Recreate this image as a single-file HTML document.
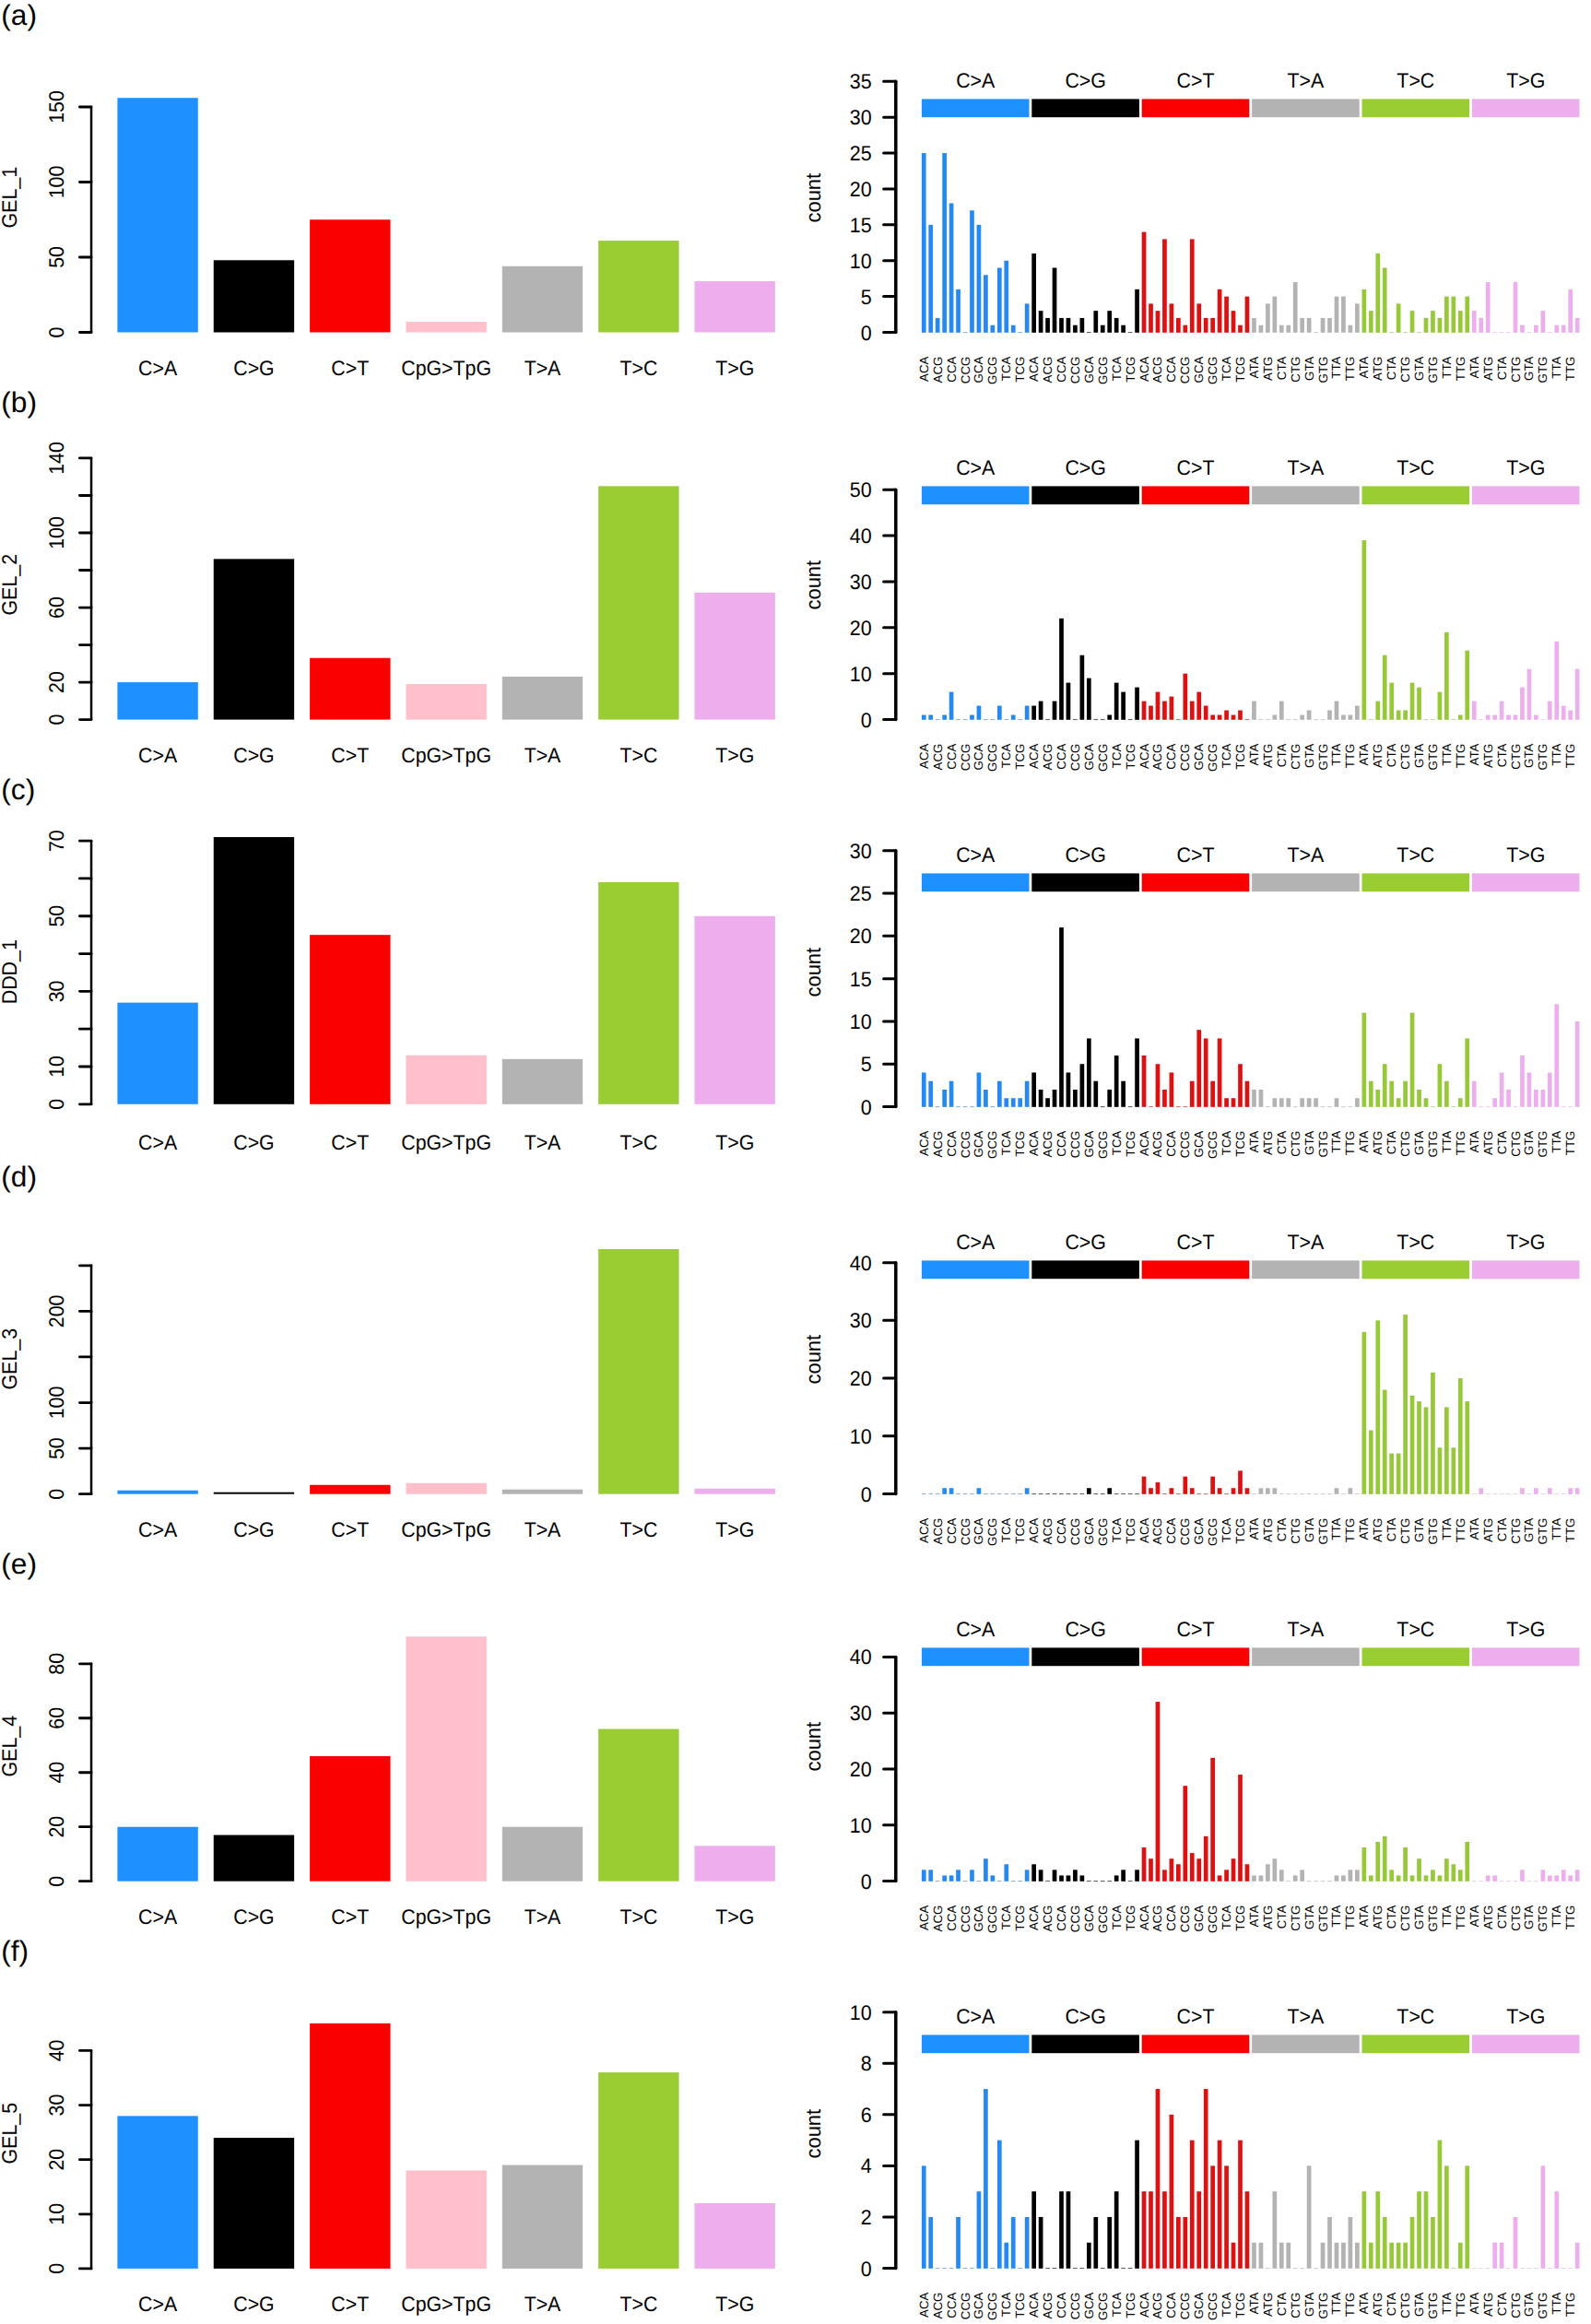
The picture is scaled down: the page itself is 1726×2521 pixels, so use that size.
<!DOCTYPE html>
<html lang="en"><head><meta charset="utf-8"><title>Mutation spectra</title>
<style>html,body{margin:0;padding:0;background:#fff}svg{display:block}text{font-family:"Liberation Sans",Arial,Helvetica,sans-serif;fill:#000;text-rendering:geometricPrecision}.t{font-size:22.7px}.s{font-size:13.3px}.g{font-size:31.2px}.ax{stroke:#000;fill:none;stroke-linecap:round;stroke-linejoin:round}</style></head><body>
<svg width="1726" height="2521" viewBox="0 0 1726 2521">
<rect width="1726" height="2521" fill="#fff"/>
<g transform="translate(0,0)">
<text class="g" transform="translate(1.25,27) scale(1.016,1)">(a)</text>
<rect x="127.4" y="106.22" width="87.4" height="254.28" fill="#1E90FF"/>
<text class="t" text-anchor="middle" transform="translate(171.1,406.9) scale(0.94,1)">C&gt;A</text>
<rect x="231.75" y="282.26" width="87.4" height="78.24" fill="#000000"/>
<text class="t" text-anchor="middle" transform="translate(275.45,406.9) scale(0.94,1)">C&gt;G</text>
<rect x="336.1" y="238.25" width="87.4" height="122.25" fill="#FA0000"/>
<text class="t" text-anchor="middle" transform="translate(379.8,406.9) scale(0.94,1)">C&gt;T</text>
<rect x="440.45" y="349.09" width="87.4" height="11.41" fill="#FFC0CB"/>
<text class="t" text-anchor="middle" transform="translate(484.15,406.9) scale(0.94,1)">CpG&gt;TpG</text>
<rect x="544.8" y="288.78" width="87.4" height="71.72" fill="#B3B3B3"/>
<text class="t" text-anchor="middle" transform="translate(588.5,406.9) scale(0.94,1)">T&gt;A</text>
<rect x="649.15" y="261.07" width="87.4" height="99.43" fill="#9ACD32"/>
<text class="t" text-anchor="middle" transform="translate(692.85,406.9) scale(0.94,1)">T&gt;C</text>
<rect x="753.5" y="305.08" width="87.4" height="55.42" fill="#EEAEEE"/>
<text class="t" text-anchor="middle" transform="translate(797.2,406.9) scale(0.94,1)">T&gt;G</text>
<path class="ax" stroke-width="2.8" d="M86.4 360.5H99.05M86.4 279H99.05M86.4 197.5H99.05M86.4 116H99.05"/>
<path class="ax" stroke-width="2.5" d="M99.05 116V360.5"/>
<text class="t" text-anchor="middle" transform="translate(68.5,360.5) rotate(-90) scale(0.94,1)">0</text>
<text class="t" text-anchor="middle" transform="translate(68.5,279) rotate(-90) scale(0.94,1)">50</text>
<text class="t" text-anchor="middle" transform="translate(68.5,197.5) rotate(-90) scale(0.94,1)">100</text>
<text class="t" text-anchor="middle" transform="translate(68.5,116) rotate(-90) scale(0.94,1)">150</text>
<text class="t" text-anchor="middle" transform="translate(17.7,214.2) rotate(-90) scale(0.945,1)">GEL_1</text>
<path class="ax" stroke-width="3" d="M958.6 360.5H971.8M958.6 321.617H971.8M958.6 282.733H971.8M958.6 243.85H971.8M958.6 204.967H971.8M958.6 166.083H971.8M958.6 127.2H971.8M958.6 88.317H971.8"/>
<path class="ax" stroke-width="3.5" d="M971.8 88.317V360.5"/>
<text class="t" text-anchor="end" transform="translate(945.6,368.5) scale(0.945,1)">0</text>
<text class="t" text-anchor="end" transform="translate(945.6,329.617) scale(0.945,1)">5</text>
<text class="t" text-anchor="end" transform="translate(945.6,290.733) scale(0.945,1)">10</text>
<text class="t" text-anchor="end" transform="translate(945.6,251.85) scale(0.945,1)">15</text>
<text class="t" text-anchor="end" transform="translate(945.6,212.967) scale(0.945,1)">20</text>
<text class="t" text-anchor="end" transform="translate(945.6,174.083) scale(0.945,1)">25</text>
<text class="t" text-anchor="end" transform="translate(945.6,135.2) scale(0.945,1)">30</text>
<text class="t" text-anchor="end" transform="translate(945.6,96.317) scale(0.945,1)">35</text>
<text class="t" text-anchor="middle" transform="translate(890,214.7) rotate(-90) scale(0.97,1)">count</text>
<rect x="999.9" y="107.4" width="116.6" height="19.8" fill="#1E90FF"/>
<text class="t" text-anchor="middle" transform="translate(1058.2,94.5) scale(0.94,1)">C&gt;A</text>
<g fill="#2489F0">
<rect x="999.9" y="166.083" width="4.7" height="194.717"/>
<rect x="1007.36" y="243.85" width="4.7" height="116.95"/>
<rect x="1014.82" y="344.947" width="4.7" height="15.853"/>
<rect x="1022.28" y="166.083" width="4.7" height="194.717"/>
<rect x="1029.74" y="220.52" width="4.7" height="140.28"/>
<rect x="1037.2" y="313.84" width="4.7" height="46.96"/>
<rect x="1052.12" y="228.297" width="4.7" height="132.503"/>
<rect x="1059.58" y="243.85" width="4.7" height="116.95"/>
<rect x="1067.04" y="298.287" width="4.7" height="62.513"/>
<rect x="1074.5" y="352.723" width="4.7" height="8.077"/>
<rect x="1081.96" y="290.51" width="4.7" height="70.29"/>
<rect x="1089.42" y="282.733" width="4.7" height="78.067"/>
<rect x="1096.88" y="352.723" width="4.7" height="8.077"/>
<rect x="1111.8" y="329.393" width="4.7" height="31.407"/>
</g>
<path d="M1044.66 360.6h4.7M1104.34 360.6h4.7" stroke="#5A82A9" stroke-width="0.8" opacity="0.85" fill="none"/>
<text class="s" text-anchor="end" transform="translate(1006.75,386.6) rotate(-90)">ACA</text>
<text class="s" text-anchor="end" transform="translate(1021.67,386.6) rotate(-90)">ACG</text>
<text class="s" text-anchor="end" transform="translate(1036.59,386.6) rotate(-90)">CCA</text>
<text class="s" text-anchor="end" transform="translate(1051.51,386.6) rotate(-90)">CCG</text>
<text class="s" text-anchor="end" transform="translate(1066.43,386.6) rotate(-90)">GCA</text>
<text class="s" text-anchor="end" transform="translate(1081.35,386.6) rotate(-90)">GCG</text>
<text class="s" text-anchor="end" transform="translate(1096.27,386.6) rotate(-90)">TCA</text>
<text class="s" text-anchor="end" transform="translate(1111.19,386.6) rotate(-90)">TCG</text>
<rect x="1119.3" y="107.4" width="116.6" height="19.8" fill="#000000"/>
<text class="t" text-anchor="middle" transform="translate(1177.6,94.5) scale(0.94,1)">C&gt;G</text>
<g fill="#000000">
<rect x="1119.3" y="274.957" width="4.7" height="85.843"/>
<rect x="1126.76" y="337.17" width="4.7" height="23.63"/>
<rect x="1134.22" y="344.947" width="4.7" height="15.853"/>
<rect x="1141.68" y="290.51" width="4.7" height="70.29"/>
<rect x="1149.14" y="344.947" width="4.7" height="15.853"/>
<rect x="1156.6" y="344.947" width="4.7" height="15.853"/>
<rect x="1164.06" y="352.723" width="4.7" height="8.077"/>
<rect x="1171.52" y="344.947" width="4.7" height="15.853"/>
<rect x="1186.44" y="337.17" width="4.7" height="23.63"/>
<rect x="1193.9" y="352.723" width="4.7" height="8.077"/>
<rect x="1201.36" y="337.17" width="4.7" height="23.63"/>
<rect x="1208.82" y="344.947" width="4.7" height="15.853"/>
<rect x="1216.28" y="352.723" width="4.7" height="8.077"/>
<rect x="1231.2" y="313.84" width="4.7" height="46.96"/>
</g>
<path d="M1178.98 360.6h4.7M1223.74 360.6h4.7" stroke="#000000" stroke-width="0.8" opacity="0.85" fill="none"/>
<text class="s" text-anchor="end" transform="translate(1126.15,386.6) rotate(-90)">ACA</text>
<text class="s" text-anchor="end" transform="translate(1141.07,386.6) rotate(-90)">ACG</text>
<text class="s" text-anchor="end" transform="translate(1155.99,386.6) rotate(-90)">CCA</text>
<text class="s" text-anchor="end" transform="translate(1170.91,386.6) rotate(-90)">CCG</text>
<text class="s" text-anchor="end" transform="translate(1185.83,386.6) rotate(-90)">GCA</text>
<text class="s" text-anchor="end" transform="translate(1200.75,386.6) rotate(-90)">GCG</text>
<text class="s" text-anchor="end" transform="translate(1215.67,386.6) rotate(-90)">TCA</text>
<text class="s" text-anchor="end" transform="translate(1230.59,386.6) rotate(-90)">TCG</text>
<rect x="1238.7" y="107.4" width="116.6" height="19.8" fill="#FA0000"/>
<text class="t" text-anchor="middle" transform="translate(1297,94.5) scale(0.94,1)">C&gt;T</text>
<g fill="#DE1010">
<rect x="1238.7" y="251.627" width="4.7" height="109.173"/>
<rect x="1246.16" y="329.393" width="4.7" height="31.407"/>
<rect x="1253.62" y="337.17" width="4.7" height="23.63"/>
<rect x="1261.08" y="259.403" width="4.7" height="101.397"/>
<rect x="1268.54" y="329.393" width="4.7" height="31.407"/>
<rect x="1276" y="344.947" width="4.7" height="15.853"/>
<rect x="1283.46" y="352.723" width="4.7" height="8.077"/>
<rect x="1290.92" y="259.403" width="4.7" height="101.397"/>
<rect x="1298.38" y="329.393" width="4.7" height="31.407"/>
<rect x="1305.84" y="344.947" width="4.7" height="15.853"/>
<rect x="1313.3" y="344.947" width="4.7" height="15.853"/>
<rect x="1320.76" y="313.84" width="4.7" height="46.96"/>
<rect x="1328.22" y="321.617" width="4.7" height="39.183"/>
<rect x="1335.68" y="337.17" width="4.7" height="23.63"/>
<rect x="1343.14" y="352.723" width="4.7" height="8.077"/>
<rect x="1350.6" y="321.617" width="4.7" height="39.183"/>
</g>
<text class="s" text-anchor="end" transform="translate(1245.55,386.6) rotate(-90)">ACA</text>
<text class="s" text-anchor="end" transform="translate(1260.47,386.6) rotate(-90)">ACG</text>
<text class="s" text-anchor="end" transform="translate(1275.39,386.6) rotate(-90)">CCA</text>
<text class="s" text-anchor="end" transform="translate(1290.31,386.6) rotate(-90)">CCG</text>
<text class="s" text-anchor="end" transform="translate(1305.23,386.6) rotate(-90)">GCA</text>
<text class="s" text-anchor="end" transform="translate(1320.15,386.6) rotate(-90)">GCG</text>
<text class="s" text-anchor="end" transform="translate(1335.07,386.6) rotate(-90)">TCA</text>
<text class="s" text-anchor="end" transform="translate(1349.99,386.6) rotate(-90)">TCG</text>
<rect x="1358.1" y="107.4" width="116.6" height="19.8" fill="#B3B3B3"/>
<text class="t" text-anchor="middle" transform="translate(1416.4,94.5) scale(0.94,1)">T&gt;A</text>
<g fill="#B3B3B3">
<rect x="1358.1" y="344.947" width="4.7" height="15.853"/>
<rect x="1365.56" y="352.723" width="4.7" height="8.077"/>
<rect x="1373.02" y="329.393" width="4.7" height="31.407"/>
<rect x="1380.48" y="321.617" width="4.7" height="39.183"/>
<rect x="1387.94" y="352.723" width="4.7" height="8.077"/>
<rect x="1395.4" y="352.723" width="4.7" height="8.077"/>
<rect x="1402.86" y="306.063" width="4.7" height="54.737"/>
<rect x="1410.32" y="344.947" width="4.7" height="15.853"/>
<rect x="1417.78" y="344.947" width="4.7" height="15.853"/>
<rect x="1432.7" y="344.947" width="4.7" height="15.853"/>
<rect x="1440.16" y="344.947" width="4.7" height="15.853"/>
<rect x="1447.62" y="321.617" width="4.7" height="39.183"/>
<rect x="1455.08" y="321.617" width="4.7" height="39.183"/>
<rect x="1462.54" y="352.723" width="4.7" height="8.077"/>
<rect x="1470" y="329.393" width="4.7" height="31.407"/>
</g>
<path d="M1425.24 360.6h4.7" stroke="#B3B3B3" stroke-width="0.8" opacity="0.85" fill="none"/>
<text class="s" text-anchor="end" transform="translate(1364.95,386.6) rotate(-90)">ATA</text>
<text class="s" text-anchor="end" transform="translate(1379.87,386.6) rotate(-90)">ATG</text>
<text class="s" text-anchor="end" transform="translate(1394.79,386.6) rotate(-90)">CTA</text>
<text class="s" text-anchor="end" transform="translate(1409.71,386.6) rotate(-90)">CTG</text>
<text class="s" text-anchor="end" transform="translate(1424.63,386.6) rotate(-90)">GTA</text>
<text class="s" text-anchor="end" transform="translate(1439.55,386.6) rotate(-90)">GTG</text>
<text class="s" text-anchor="end" transform="translate(1454.47,386.6) rotate(-90)">TTA</text>
<text class="s" text-anchor="end" transform="translate(1469.39,386.6) rotate(-90)">TTG</text>
<rect x="1477.5" y="107.4" width="116.6" height="19.8" fill="#9ACD32"/>
<text class="t" text-anchor="middle" transform="translate(1535.8,94.5) scale(0.94,1)">T&gt;C</text>
<g fill="#97C838">
<rect x="1477.5" y="313.84" width="4.7" height="46.96"/>
<rect x="1484.96" y="337.17" width="4.7" height="23.63"/>
<rect x="1492.42" y="274.957" width="4.7" height="85.843"/>
<rect x="1499.88" y="290.51" width="4.7" height="70.29"/>
<rect x="1514.8" y="329.393" width="4.7" height="31.407"/>
<rect x="1529.72" y="337.17" width="4.7" height="23.63"/>
<rect x="1544.64" y="344.947" width="4.7" height="15.853"/>
<rect x="1552.1" y="337.17" width="4.7" height="23.63"/>
<rect x="1559.56" y="344.947" width="4.7" height="15.853"/>
<rect x="1567.02" y="321.617" width="4.7" height="39.183"/>
<rect x="1574.48" y="321.617" width="4.7" height="39.183"/>
<rect x="1581.94" y="337.17" width="4.7" height="23.63"/>
<rect x="1589.4" y="321.617" width="4.7" height="39.183"/>
</g>
<path d="M1507.34 360.6h4.7M1522.26 360.6h4.7M1537.18 360.6h4.7" stroke="#A6B881" stroke-width="0.8" opacity="0.85" fill="none"/>
<text class="s" text-anchor="end" transform="translate(1484.35,386.6) rotate(-90)">ATA</text>
<text class="s" text-anchor="end" transform="translate(1499.27,386.6) rotate(-90)">ATG</text>
<text class="s" text-anchor="end" transform="translate(1514.19,386.6) rotate(-90)">CTA</text>
<text class="s" text-anchor="end" transform="translate(1529.11,386.6) rotate(-90)">CTG</text>
<text class="s" text-anchor="end" transform="translate(1544.03,386.6) rotate(-90)">GTA</text>
<text class="s" text-anchor="end" transform="translate(1558.95,386.6) rotate(-90)">GTG</text>
<text class="s" text-anchor="end" transform="translate(1573.87,386.6) rotate(-90)">TTA</text>
<text class="s" text-anchor="end" transform="translate(1588.79,386.6) rotate(-90)">TTG</text>
<rect x="1596.9" y="107.4" width="116.6" height="19.8" fill="#EEAEEE"/>
<text class="t" text-anchor="middle" transform="translate(1655.2,94.5) scale(0.94,1)">T&gt;G</text>
<g fill="#ECAEEC">
<rect x="1596.9" y="337.17" width="4.7" height="23.63"/>
<rect x="1604.36" y="344.947" width="4.7" height="15.853"/>
<rect x="1611.82" y="306.063" width="4.7" height="54.737"/>
<rect x="1641.66" y="306.063" width="4.7" height="54.737"/>
<rect x="1649.12" y="352.723" width="4.7" height="8.077"/>
<rect x="1664.04" y="352.723" width="4.7" height="8.077"/>
<rect x="1671.5" y="337.17" width="4.7" height="23.63"/>
<rect x="1686.42" y="352.723" width="4.7" height="8.077"/>
<rect x="1693.88" y="352.723" width="4.7" height="8.077"/>
<rect x="1701.34" y="313.84" width="4.7" height="46.96"/>
<rect x="1708.8" y="344.947" width="4.7" height="15.853"/>
</g>
<path d="M1619.28 360.6h4.7M1626.74 360.6h4.7M1634.2 360.6h4.7M1656.58 360.6h4.7M1678.96 360.6h4.7" stroke="#D6BFD6" stroke-width="0.8" opacity="0.85" fill="none"/>
<text class="s" text-anchor="end" transform="translate(1603.75,386.6) rotate(-90)">ATA</text>
<text class="s" text-anchor="end" transform="translate(1618.67,386.6) rotate(-90)">ATG</text>
<text class="s" text-anchor="end" transform="translate(1633.59,386.6) rotate(-90)">CTA</text>
<text class="s" text-anchor="end" transform="translate(1648.51,386.6) rotate(-90)">CTG</text>
<text class="s" text-anchor="end" transform="translate(1663.43,386.6) rotate(-90)">GTA</text>
<text class="s" text-anchor="end" transform="translate(1678.35,386.6) rotate(-90)">GTG</text>
<text class="s" text-anchor="end" transform="translate(1693.27,386.6) rotate(-90)">TTA</text>
<text class="s" text-anchor="end" transform="translate(1708.19,386.6) rotate(-90)">TTG</text>
</g>
<g transform="translate(0,420)">
<text class="g" transform="translate(1.25,27) scale(1.016,1)">(b)</text>
<rect x="127.4" y="320.08" width="87.4" height="40.52" fill="#1E90FF"/>
<text class="t" text-anchor="middle" transform="translate(171.1,406.9) scale(0.94,1)">C&gt;A</text>
<rect x="231.75" y="186.364" width="87.4" height="174.236" fill="#000000"/>
<text class="t" text-anchor="middle" transform="translate(275.45,406.9) scale(0.94,1)">C&gt;G</text>
<rect x="336.1" y="293.742" width="87.4" height="66.858" fill="#FA0000"/>
<text class="t" text-anchor="middle" transform="translate(379.8,406.9) scale(0.94,1)">C&gt;T</text>
<rect x="440.45" y="322.106" width="87.4" height="38.494" fill="#FFC0CB"/>
<text class="t" text-anchor="middle" transform="translate(484.15,406.9) scale(0.94,1)">CpG&gt;TpG</text>
<rect x="544.8" y="314.002" width="87.4" height="46.598" fill="#B3B3B3"/>
<text class="t" text-anchor="middle" transform="translate(588.5,406.9) scale(0.94,1)">T&gt;A</text>
<rect x="649.15" y="107.35" width="87.4" height="253.25" fill="#9ACD32"/>
<text class="t" text-anchor="middle" transform="translate(692.85,406.9) scale(0.94,1)">T&gt;C</text>
<rect x="753.5" y="222.832" width="87.4" height="137.768" fill="#EEAEEE"/>
<text class="t" text-anchor="middle" transform="translate(797.2,406.9) scale(0.94,1)">T&gt;G</text>
<path class="ax" stroke-width="2.8" d="M86.4 360.6H99.05M86.4 320.08H99.05M86.4 279.56H99.05M86.4 239.04H99.05M86.4 198.52H99.05M86.4 158H99.05M86.4 117.48H99.05M86.4 76.96H99.05"/>
<path class="ax" stroke-width="2.5" d="M99.05 76.96V360.6"/>
<text class="t" text-anchor="middle" transform="translate(68.5,360.6) rotate(-90) scale(0.94,1)">0</text>
<text class="t" text-anchor="middle" transform="translate(68.5,320.08) rotate(-90) scale(0.94,1)">20</text>
<text class="t" text-anchor="middle" transform="translate(68.5,239.04) rotate(-90) scale(0.94,1)">60</text>
<text class="t" text-anchor="middle" transform="translate(68.5,158) rotate(-90) scale(0.94,1)">100</text>
<text class="t" text-anchor="middle" transform="translate(68.5,76.96) rotate(-90) scale(0.94,1)">140</text>
<text class="t" text-anchor="middle" transform="translate(17.7,214.2) rotate(-90) scale(0.945,1)">GEL_2</text>
<path class="ax" stroke-width="3" d="M958.6 360.5H971.8M958.6 310.65H971.8M958.6 260.799H971.8M958.6 210.949H971.8M958.6 161.098H971.8M958.6 111.248H971.8"/>
<path class="ax" stroke-width="3.5" d="M971.8 111.248V360.5"/>
<text class="t" text-anchor="end" transform="translate(945.6,368.5) scale(0.945,1)">0</text>
<text class="t" text-anchor="end" transform="translate(945.6,318.65) scale(0.945,1)">10</text>
<text class="t" text-anchor="end" transform="translate(945.6,268.799) scale(0.945,1)">20</text>
<text class="t" text-anchor="end" transform="translate(945.6,218.949) scale(0.945,1)">30</text>
<text class="t" text-anchor="end" transform="translate(945.6,169.098) scale(0.945,1)">40</text>
<text class="t" text-anchor="end" transform="translate(945.6,119.248) scale(0.945,1)">50</text>
<text class="t" text-anchor="middle" transform="translate(890,214.7) rotate(-90) scale(0.97,1)">count</text>
<rect x="999.9" y="107.4" width="116.6" height="19.8" fill="#1E90FF"/>
<text class="t" text-anchor="middle" transform="translate(1058.2,94.5) scale(0.94,1)">C&gt;A</text>
<g fill="#2489F0">
<rect x="999.9" y="355.515" width="4.7" height="5.285"/>
<rect x="1007.36" y="355.515" width="4.7" height="5.285"/>
<rect x="1022.28" y="355.515" width="4.7" height="5.285"/>
<rect x="1029.74" y="330.59" width="4.7" height="30.21"/>
<rect x="1052.12" y="355.515" width="4.7" height="5.285"/>
<rect x="1059.58" y="345.545" width="4.7" height="15.255"/>
<rect x="1081.96" y="345.545" width="4.7" height="15.255"/>
<rect x="1096.88" y="355.515" width="4.7" height="5.285"/>
<rect x="1111.8" y="345.545" width="4.7" height="15.255"/>
</g>
<path d="M1014.82 360.6h4.7M1037.2 360.6h4.7M1044.66 360.6h4.7M1067.04 360.6h4.7M1074.5 360.6h4.7M1089.42 360.6h4.7M1104.34 360.6h4.7" stroke="#5A82A9" stroke-width="0.8" opacity="0.85" fill="none"/>
<text class="s" text-anchor="end" transform="translate(1006.75,386.6) rotate(-90)">ACA</text>
<text class="s" text-anchor="end" transform="translate(1021.67,386.6) rotate(-90)">ACG</text>
<text class="s" text-anchor="end" transform="translate(1036.59,386.6) rotate(-90)">CCA</text>
<text class="s" text-anchor="end" transform="translate(1051.51,386.6) rotate(-90)">CCG</text>
<text class="s" text-anchor="end" transform="translate(1066.43,386.6) rotate(-90)">GCA</text>
<text class="s" text-anchor="end" transform="translate(1081.35,386.6) rotate(-90)">GCG</text>
<text class="s" text-anchor="end" transform="translate(1096.27,386.6) rotate(-90)">TCA</text>
<text class="s" text-anchor="end" transform="translate(1111.19,386.6) rotate(-90)">TCG</text>
<rect x="1119.3" y="107.4" width="116.6" height="19.8" fill="#000000"/>
<text class="t" text-anchor="middle" transform="translate(1177.6,94.5) scale(0.94,1)">C&gt;G</text>
<g fill="#000000">
<rect x="1119.3" y="345.545" width="4.7" height="15.255"/>
<rect x="1126.76" y="340.56" width="4.7" height="20.24"/>
<rect x="1141.68" y="340.56" width="4.7" height="20.24"/>
<rect x="1149.14" y="250.829" width="4.7" height="109.971"/>
<rect x="1156.6" y="320.62" width="4.7" height="40.18"/>
<rect x="1171.52" y="290.709" width="4.7" height="70.091"/>
<rect x="1178.98" y="315.635" width="4.7" height="45.165"/>
<rect x="1201.36" y="355.515" width="4.7" height="5.285"/>
<rect x="1208.82" y="320.62" width="4.7" height="40.18"/>
<rect x="1216.28" y="330.59" width="4.7" height="30.21"/>
<rect x="1231.2" y="325.605" width="4.7" height="35.195"/>
</g>
<path d="M1134.22 360.6h4.7M1164.06 360.6h4.7M1186.44 360.6h4.7M1193.9 360.6h4.7M1223.74 360.6h4.7" stroke="#000000" stroke-width="0.8" opacity="0.85" fill="none"/>
<text class="s" text-anchor="end" transform="translate(1126.15,386.6) rotate(-90)">ACA</text>
<text class="s" text-anchor="end" transform="translate(1141.07,386.6) rotate(-90)">ACG</text>
<text class="s" text-anchor="end" transform="translate(1155.99,386.6) rotate(-90)">CCA</text>
<text class="s" text-anchor="end" transform="translate(1170.91,386.6) rotate(-90)">CCG</text>
<text class="s" text-anchor="end" transform="translate(1185.83,386.6) rotate(-90)">GCA</text>
<text class="s" text-anchor="end" transform="translate(1200.75,386.6) rotate(-90)">GCG</text>
<text class="s" text-anchor="end" transform="translate(1215.67,386.6) rotate(-90)">TCA</text>
<text class="s" text-anchor="end" transform="translate(1230.59,386.6) rotate(-90)">TCG</text>
<rect x="1238.7" y="107.4" width="116.6" height="19.8" fill="#FA0000"/>
<text class="t" text-anchor="middle" transform="translate(1297,94.5) scale(0.94,1)">C&gt;T</text>
<g fill="#DE1010">
<rect x="1238.7" y="340.56" width="4.7" height="20.24"/>
<rect x="1246.16" y="345.545" width="4.7" height="15.255"/>
<rect x="1253.62" y="330.59" width="4.7" height="30.21"/>
<rect x="1261.08" y="340.56" width="4.7" height="20.24"/>
<rect x="1268.54" y="335.575" width="4.7" height="25.225"/>
<rect x="1283.46" y="310.65" width="4.7" height="50.15"/>
<rect x="1290.92" y="340.56" width="4.7" height="20.24"/>
<rect x="1298.38" y="330.59" width="4.7" height="30.21"/>
<rect x="1305.84" y="345.545" width="4.7" height="15.255"/>
<rect x="1313.3" y="355.515" width="4.7" height="5.285"/>
<rect x="1320.76" y="355.515" width="4.7" height="5.285"/>
<rect x="1328.22" y="350.53" width="4.7" height="10.27"/>
<rect x="1335.68" y="355.515" width="4.7" height="5.285"/>
<rect x="1343.14" y="350.53" width="4.7" height="10.27"/>
</g>
<path d="M1276 360.6h4.7M1350.6 360.6h4.7" stroke="#883131" stroke-width="0.8" opacity="0.85" fill="none"/>
<text class="s" text-anchor="end" transform="translate(1245.55,386.6) rotate(-90)">ACA</text>
<text class="s" text-anchor="end" transform="translate(1260.47,386.6) rotate(-90)">ACG</text>
<text class="s" text-anchor="end" transform="translate(1275.39,386.6) rotate(-90)">CCA</text>
<text class="s" text-anchor="end" transform="translate(1290.31,386.6) rotate(-90)">CCG</text>
<text class="s" text-anchor="end" transform="translate(1305.23,386.6) rotate(-90)">GCA</text>
<text class="s" text-anchor="end" transform="translate(1320.15,386.6) rotate(-90)">GCG</text>
<text class="s" text-anchor="end" transform="translate(1335.07,386.6) rotate(-90)">TCA</text>
<text class="s" text-anchor="end" transform="translate(1349.99,386.6) rotate(-90)">TCG</text>
<rect x="1358.1" y="107.4" width="116.6" height="19.8" fill="#B3B3B3"/>
<text class="t" text-anchor="middle" transform="translate(1416.4,94.5) scale(0.94,1)">T&gt;A</text>
<g fill="#B3B3B3">
<rect x="1358.1" y="340.56" width="4.7" height="20.24"/>
<rect x="1380.48" y="355.515" width="4.7" height="5.285"/>
<rect x="1387.94" y="340.56" width="4.7" height="20.24"/>
<rect x="1410.32" y="355.515" width="4.7" height="5.285"/>
<rect x="1417.78" y="350.53" width="4.7" height="10.27"/>
<rect x="1440.16" y="350.53" width="4.7" height="10.27"/>
<rect x="1447.62" y="340.56" width="4.7" height="20.24"/>
<rect x="1455.08" y="355.515" width="4.7" height="5.285"/>
<rect x="1462.54" y="355.515" width="4.7" height="5.285"/>
<rect x="1470" y="345.545" width="4.7" height="15.255"/>
</g>
<path d="M1365.56 360.6h4.7M1373.02 360.6h4.7M1395.4 360.6h4.7M1402.86 360.6h4.7M1425.24 360.6h4.7M1432.7 360.6h4.7" stroke="#B3B3B3" stroke-width="0.8" opacity="0.85" fill="none"/>
<text class="s" text-anchor="end" transform="translate(1364.95,386.6) rotate(-90)">ATA</text>
<text class="s" text-anchor="end" transform="translate(1379.87,386.6) rotate(-90)">ATG</text>
<text class="s" text-anchor="end" transform="translate(1394.79,386.6) rotate(-90)">CTA</text>
<text class="s" text-anchor="end" transform="translate(1409.71,386.6) rotate(-90)">CTG</text>
<text class="s" text-anchor="end" transform="translate(1424.63,386.6) rotate(-90)">GTA</text>
<text class="s" text-anchor="end" transform="translate(1439.55,386.6) rotate(-90)">GTG</text>
<text class="s" text-anchor="end" transform="translate(1454.47,386.6) rotate(-90)">TTA</text>
<text class="s" text-anchor="end" transform="translate(1469.39,386.6) rotate(-90)">TTG</text>
<rect x="1477.5" y="107.4" width="116.6" height="19.8" fill="#9ACD32"/>
<text class="t" text-anchor="middle" transform="translate(1535.8,94.5) scale(0.94,1)">T&gt;C</text>
<g fill="#97C838">
<rect x="1477.5" y="166.083" width="4.7" height="194.717"/>
<rect x="1492.42" y="340.56" width="4.7" height="20.24"/>
<rect x="1499.88" y="290.709" width="4.7" height="70.091"/>
<rect x="1507.34" y="320.62" width="4.7" height="40.18"/>
<rect x="1514.8" y="350.53" width="4.7" height="10.27"/>
<rect x="1522.26" y="350.53" width="4.7" height="10.27"/>
<rect x="1529.72" y="320.62" width="4.7" height="40.18"/>
<rect x="1537.18" y="325.605" width="4.7" height="35.195"/>
<rect x="1559.56" y="330.59" width="4.7" height="30.21"/>
<rect x="1567.02" y="265.784" width="4.7" height="95.016"/>
<rect x="1581.94" y="355.515" width="4.7" height="5.285"/>
<rect x="1589.4" y="285.724" width="4.7" height="75.076"/>
</g>
<path d="M1484.96 360.6h4.7M1544.64 360.6h4.7M1552.1 360.6h4.7M1574.48 360.6h4.7" stroke="#A6B881" stroke-width="0.8" opacity="0.85" fill="none"/>
<text class="s" text-anchor="end" transform="translate(1484.35,386.6) rotate(-90)">ATA</text>
<text class="s" text-anchor="end" transform="translate(1499.27,386.6) rotate(-90)">ATG</text>
<text class="s" text-anchor="end" transform="translate(1514.19,386.6) rotate(-90)">CTA</text>
<text class="s" text-anchor="end" transform="translate(1529.11,386.6) rotate(-90)">CTG</text>
<text class="s" text-anchor="end" transform="translate(1544.03,386.6) rotate(-90)">GTA</text>
<text class="s" text-anchor="end" transform="translate(1558.95,386.6) rotate(-90)">GTG</text>
<text class="s" text-anchor="end" transform="translate(1573.87,386.6) rotate(-90)">TTA</text>
<text class="s" text-anchor="end" transform="translate(1588.79,386.6) rotate(-90)">TTG</text>
<rect x="1596.9" y="107.4" width="116.6" height="19.8" fill="#EEAEEE"/>
<text class="t" text-anchor="middle" transform="translate(1655.2,94.5) scale(0.94,1)">T&gt;G</text>
<g fill="#ECAEEC">
<rect x="1596.9" y="340.56" width="4.7" height="20.24"/>
<rect x="1611.82" y="355.515" width="4.7" height="5.285"/>
<rect x="1619.28" y="355.515" width="4.7" height="5.285"/>
<rect x="1626.74" y="340.56" width="4.7" height="20.24"/>
<rect x="1634.2" y="355.515" width="4.7" height="5.285"/>
<rect x="1641.66" y="355.515" width="4.7" height="5.285"/>
<rect x="1649.12" y="325.605" width="4.7" height="35.195"/>
<rect x="1656.58" y="305.665" width="4.7" height="55.135"/>
<rect x="1664.04" y="355.515" width="4.7" height="5.285"/>
<rect x="1678.96" y="340.56" width="4.7" height="20.24"/>
<rect x="1686.42" y="275.754" width="4.7" height="85.046"/>
<rect x="1693.88" y="345.545" width="4.7" height="15.255"/>
<rect x="1701.34" y="350.53" width="4.7" height="10.27"/>
<rect x="1708.8" y="305.665" width="4.7" height="55.135"/>
</g>
<path d="M1604.36 360.6h4.7M1671.5 360.6h4.7" stroke="#D6BFD6" stroke-width="0.8" opacity="0.85" fill="none"/>
<text class="s" text-anchor="end" transform="translate(1603.75,386.6) rotate(-90)">ATA</text>
<text class="s" text-anchor="end" transform="translate(1618.67,386.6) rotate(-90)">ATG</text>
<text class="s" text-anchor="end" transform="translate(1633.59,386.6) rotate(-90)">CTA</text>
<text class="s" text-anchor="end" transform="translate(1648.51,386.6) rotate(-90)">CTG</text>
<text class="s" text-anchor="end" transform="translate(1663.43,386.6) rotate(-90)">GTA</text>
<text class="s" text-anchor="end" transform="translate(1678.35,386.6) rotate(-90)">GTG</text>
<text class="s" text-anchor="end" transform="translate(1693.27,386.6) rotate(-90)">TTA</text>
<text class="s" text-anchor="end" transform="translate(1708.19,386.6) rotate(-90)">TTG</text>
</g>
<g transform="translate(0,840)">
<text class="g" transform="translate(1.25,27) scale(1.016,1)">(c)</text>
<rect x="127.4" y="247.613" width="87.4" height="110.187" fill="#1E90FF"/>
<text class="t" text-anchor="middle" transform="translate(171.1,406.9) scale(0.94,1)">C&gt;A</text>
<rect x="231.75" y="68.049" width="87.4" height="289.751" fill="#000000"/>
<text class="t" text-anchor="middle" transform="translate(275.45,406.9) scale(0.94,1)">C&gt;G</text>
<rect x="336.1" y="174.155" width="87.4" height="183.645" fill="#FA0000"/>
<text class="t" text-anchor="middle" transform="translate(379.8,406.9) scale(0.94,1)">C&gt;T</text>
<rect x="440.45" y="304.747" width="87.4" height="53.053" fill="#FFC0CB"/>
<text class="t" text-anchor="middle" transform="translate(484.15,406.9) scale(0.94,1)">CpG&gt;TpG</text>
<rect x="544.8" y="308.828" width="87.4" height="48.972" fill="#B3B3B3"/>
<text class="t" text-anchor="middle" transform="translate(588.5,406.9) scale(0.94,1)">T&gt;A</text>
<rect x="649.15" y="117.021" width="87.4" height="240.779" fill="#9ACD32"/>
<text class="t" text-anchor="middle" transform="translate(692.85,406.9) scale(0.94,1)">T&gt;C</text>
<rect x="753.5" y="153.75" width="87.4" height="204.05" fill="#EEAEEE"/>
<text class="t" text-anchor="middle" transform="translate(797.2,406.9) scale(0.94,1)">T&gt;G</text>
<path class="ax" stroke-width="2.8" d="M86.4 357.8H99.05M86.4 316.99H99.05M86.4 276.18H99.05M86.4 235.37H99.05M86.4 194.56H99.05M86.4 153.75H99.05M86.4 112.94H99.05M86.4 72.13H99.05"/>
<path class="ax" stroke-width="2.5" d="M99.05 72.13V357.8"/>
<text class="t" text-anchor="middle" transform="translate(68.5,357.8) rotate(-90) scale(0.94,1)">0</text>
<text class="t" text-anchor="middle" transform="translate(68.5,316.99) rotate(-90) scale(0.94,1)">10</text>
<text class="t" text-anchor="middle" transform="translate(68.5,235.37) rotate(-90) scale(0.94,1)">30</text>
<text class="t" text-anchor="middle" transform="translate(68.5,153.75) rotate(-90) scale(0.94,1)">50</text>
<text class="t" text-anchor="middle" transform="translate(68.5,72.13) rotate(-90) scale(0.94,1)">70</text>
<text class="t" text-anchor="middle" transform="translate(17.7,214.2) rotate(-90) scale(0.945,1)">DDD_1</text>
<path class="ax" stroke-width="3" d="M958.6 360.5H971.8M958.6 314.21H971.8M958.6 267.921H971.8M958.6 221.631H971.8M958.6 175.341H971.8M958.6 129.052H971.8M958.6 82.762H971.8"/>
<path class="ax" stroke-width="3.5" d="M971.8 82.762V360.5"/>
<text class="t" text-anchor="end" transform="translate(945.6,368.5) scale(0.945,1)">0</text>
<text class="t" text-anchor="end" transform="translate(945.6,322.21) scale(0.945,1)">5</text>
<text class="t" text-anchor="end" transform="translate(945.6,275.921) scale(0.945,1)">10</text>
<text class="t" text-anchor="end" transform="translate(945.6,229.631) scale(0.945,1)">15</text>
<text class="t" text-anchor="end" transform="translate(945.6,183.341) scale(0.945,1)">20</text>
<text class="t" text-anchor="end" transform="translate(945.6,137.052) scale(0.945,1)">25</text>
<text class="t" text-anchor="end" transform="translate(945.6,90.762) scale(0.945,1)">30</text>
<text class="t" text-anchor="middle" transform="translate(890,214.7) rotate(-90) scale(0.97,1)">count</text>
<rect x="999.9" y="107.4" width="116.6" height="19.8" fill="#1E90FF"/>
<text class="t" text-anchor="middle" transform="translate(1058.2,94.5) scale(0.94,1)">C&gt;A</text>
<g fill="#2489F0">
<rect x="999.9" y="323.468" width="4.7" height="37.332"/>
<rect x="1007.36" y="332.726" width="4.7" height="28.074"/>
<rect x="1022.28" y="341.984" width="4.7" height="18.816"/>
<rect x="1029.74" y="332.726" width="4.7" height="28.074"/>
<rect x="1059.58" y="323.468" width="4.7" height="37.332"/>
<rect x="1067.04" y="341.984" width="4.7" height="18.816"/>
<rect x="1081.96" y="332.726" width="4.7" height="28.074"/>
<rect x="1089.42" y="351.242" width="4.7" height="9.558"/>
<rect x="1096.88" y="351.242" width="4.7" height="9.558"/>
<rect x="1104.34" y="351.242" width="4.7" height="9.558"/>
<rect x="1111.8" y="332.726" width="4.7" height="28.074"/>
</g>
<path d="M1014.82 360.6h4.7M1037.2 360.6h4.7M1044.66 360.6h4.7M1052.12 360.6h4.7M1074.5 360.6h4.7" stroke="#5A82A9" stroke-width="0.8" opacity="0.85" fill="none"/>
<text class="s" text-anchor="end" transform="translate(1006.75,386.6) rotate(-90)">ACA</text>
<text class="s" text-anchor="end" transform="translate(1021.67,386.6) rotate(-90)">ACG</text>
<text class="s" text-anchor="end" transform="translate(1036.59,386.6) rotate(-90)">CCA</text>
<text class="s" text-anchor="end" transform="translate(1051.51,386.6) rotate(-90)">CCG</text>
<text class="s" text-anchor="end" transform="translate(1066.43,386.6) rotate(-90)">GCA</text>
<text class="s" text-anchor="end" transform="translate(1081.35,386.6) rotate(-90)">GCG</text>
<text class="s" text-anchor="end" transform="translate(1096.27,386.6) rotate(-90)">TCA</text>
<text class="s" text-anchor="end" transform="translate(1111.19,386.6) rotate(-90)">TCG</text>
<rect x="1119.3" y="107.4" width="116.6" height="19.8" fill="#000000"/>
<text class="t" text-anchor="middle" transform="translate(1177.6,94.5) scale(0.94,1)">C&gt;G</text>
<g fill="#000000">
<rect x="1119.3" y="323.468" width="4.7" height="37.332"/>
<rect x="1126.76" y="341.984" width="4.7" height="18.816"/>
<rect x="1134.22" y="351.242" width="4.7" height="9.558"/>
<rect x="1141.68" y="341.984" width="4.7" height="18.816"/>
<rect x="1149.14" y="166.083" width="4.7" height="194.717"/>
<rect x="1156.6" y="323.468" width="4.7" height="37.332"/>
<rect x="1164.06" y="341.984" width="4.7" height="18.816"/>
<rect x="1171.52" y="314.21" width="4.7" height="46.59"/>
<rect x="1178.98" y="286.437" width="4.7" height="74.363"/>
<rect x="1186.44" y="332.726" width="4.7" height="28.074"/>
<rect x="1201.36" y="341.984" width="4.7" height="18.816"/>
<rect x="1208.82" y="304.952" width="4.7" height="55.848"/>
<rect x="1216.28" y="332.726" width="4.7" height="28.074"/>
<rect x="1231.2" y="286.437" width="4.7" height="74.363"/>
</g>
<path d="M1193.9 360.6h4.7M1223.74 360.6h4.7" stroke="#000000" stroke-width="0.8" opacity="0.85" fill="none"/>
<text class="s" text-anchor="end" transform="translate(1126.15,386.6) rotate(-90)">ACA</text>
<text class="s" text-anchor="end" transform="translate(1141.07,386.6) rotate(-90)">ACG</text>
<text class="s" text-anchor="end" transform="translate(1155.99,386.6) rotate(-90)">CCA</text>
<text class="s" text-anchor="end" transform="translate(1170.91,386.6) rotate(-90)">CCG</text>
<text class="s" text-anchor="end" transform="translate(1185.83,386.6) rotate(-90)">GCA</text>
<text class="s" text-anchor="end" transform="translate(1200.75,386.6) rotate(-90)">GCG</text>
<text class="s" text-anchor="end" transform="translate(1215.67,386.6) rotate(-90)">TCA</text>
<text class="s" text-anchor="end" transform="translate(1230.59,386.6) rotate(-90)">TCG</text>
<rect x="1238.7" y="107.4" width="116.6" height="19.8" fill="#FA0000"/>
<text class="t" text-anchor="middle" transform="translate(1297,94.5) scale(0.94,1)">C&gt;T</text>
<g fill="#DE1010">
<rect x="1238.7" y="304.952" width="4.7" height="55.848"/>
<rect x="1253.62" y="314.21" width="4.7" height="46.59"/>
<rect x="1261.08" y="341.984" width="4.7" height="18.816"/>
<rect x="1268.54" y="323.468" width="4.7" height="37.332"/>
<rect x="1290.92" y="332.726" width="4.7" height="28.074"/>
<rect x="1298.38" y="277.179" width="4.7" height="83.621"/>
<rect x="1305.84" y="286.437" width="4.7" height="74.363"/>
<rect x="1313.3" y="332.726" width="4.7" height="28.074"/>
<rect x="1320.76" y="286.437" width="4.7" height="74.363"/>
<rect x="1328.22" y="351.242" width="4.7" height="9.558"/>
<rect x="1335.68" y="351.242" width="4.7" height="9.558"/>
<rect x="1343.14" y="314.21" width="4.7" height="46.59"/>
<rect x="1350.6" y="332.726" width="4.7" height="28.074"/>
</g>
<path d="M1246.16 360.6h4.7M1276 360.6h4.7M1283.46 360.6h4.7" stroke="#883131" stroke-width="0.8" opacity="0.85" fill="none"/>
<text class="s" text-anchor="end" transform="translate(1245.55,386.6) rotate(-90)">ACA</text>
<text class="s" text-anchor="end" transform="translate(1260.47,386.6) rotate(-90)">ACG</text>
<text class="s" text-anchor="end" transform="translate(1275.39,386.6) rotate(-90)">CCA</text>
<text class="s" text-anchor="end" transform="translate(1290.31,386.6) rotate(-90)">CCG</text>
<text class="s" text-anchor="end" transform="translate(1305.23,386.6) rotate(-90)">GCA</text>
<text class="s" text-anchor="end" transform="translate(1320.15,386.6) rotate(-90)">GCG</text>
<text class="s" text-anchor="end" transform="translate(1335.07,386.6) rotate(-90)">TCA</text>
<text class="s" text-anchor="end" transform="translate(1349.99,386.6) rotate(-90)">TCG</text>
<rect x="1358.1" y="107.4" width="116.6" height="19.8" fill="#B3B3B3"/>
<text class="t" text-anchor="middle" transform="translate(1416.4,94.5) scale(0.94,1)">T&gt;A</text>
<g fill="#B3B3B3">
<rect x="1358.1" y="341.984" width="4.7" height="18.816"/>
<rect x="1365.56" y="341.984" width="4.7" height="18.816"/>
<rect x="1380.48" y="351.242" width="4.7" height="9.558"/>
<rect x="1387.94" y="351.242" width="4.7" height="9.558"/>
<rect x="1395.4" y="351.242" width="4.7" height="9.558"/>
<rect x="1410.32" y="351.242" width="4.7" height="9.558"/>
<rect x="1417.78" y="351.242" width="4.7" height="9.558"/>
<rect x="1425.24" y="351.242" width="4.7" height="9.558"/>
<rect x="1447.62" y="351.242" width="4.7" height="9.558"/>
<rect x="1470" y="351.242" width="4.7" height="9.558"/>
</g>
<path d="M1373.02 360.6h4.7M1402.86 360.6h4.7M1432.7 360.6h4.7M1440.16 360.6h4.7M1455.08 360.6h4.7M1462.54 360.6h4.7" stroke="#B3B3B3" stroke-width="0.8" opacity="0.85" fill="none"/>
<text class="s" text-anchor="end" transform="translate(1364.95,386.6) rotate(-90)">ATA</text>
<text class="s" text-anchor="end" transform="translate(1379.87,386.6) rotate(-90)">ATG</text>
<text class="s" text-anchor="end" transform="translate(1394.79,386.6) rotate(-90)">CTA</text>
<text class="s" text-anchor="end" transform="translate(1409.71,386.6) rotate(-90)">CTG</text>
<text class="s" text-anchor="end" transform="translate(1424.63,386.6) rotate(-90)">GTA</text>
<text class="s" text-anchor="end" transform="translate(1439.55,386.6) rotate(-90)">GTG</text>
<text class="s" text-anchor="end" transform="translate(1454.47,386.6) rotate(-90)">TTA</text>
<text class="s" text-anchor="end" transform="translate(1469.39,386.6) rotate(-90)">TTG</text>
<rect x="1477.5" y="107.4" width="116.6" height="19.8" fill="#9ACD32"/>
<text class="t" text-anchor="middle" transform="translate(1535.8,94.5) scale(0.94,1)">T&gt;C</text>
<g fill="#97C838">
<rect x="1477.5" y="258.663" width="4.7" height="102.137"/>
<rect x="1484.96" y="332.726" width="4.7" height="28.074"/>
<rect x="1492.42" y="341.984" width="4.7" height="18.816"/>
<rect x="1499.88" y="314.21" width="4.7" height="46.59"/>
<rect x="1507.34" y="332.726" width="4.7" height="28.074"/>
<rect x="1514.8" y="351.242" width="4.7" height="9.558"/>
<rect x="1522.26" y="332.726" width="4.7" height="28.074"/>
<rect x="1529.72" y="258.663" width="4.7" height="102.137"/>
<rect x="1537.18" y="341.984" width="4.7" height="18.816"/>
<rect x="1544.64" y="351.242" width="4.7" height="9.558"/>
<rect x="1559.56" y="314.21" width="4.7" height="46.59"/>
<rect x="1567.02" y="332.726" width="4.7" height="28.074"/>
<rect x="1581.94" y="351.242" width="4.7" height="9.558"/>
<rect x="1589.4" y="286.437" width="4.7" height="74.363"/>
</g>
<path d="M1552.1 360.6h4.7M1574.48 360.6h4.7" stroke="#A6B881" stroke-width="0.8" opacity="0.85" fill="none"/>
<text class="s" text-anchor="end" transform="translate(1484.35,386.6) rotate(-90)">ATA</text>
<text class="s" text-anchor="end" transform="translate(1499.27,386.6) rotate(-90)">ATG</text>
<text class="s" text-anchor="end" transform="translate(1514.19,386.6) rotate(-90)">CTA</text>
<text class="s" text-anchor="end" transform="translate(1529.11,386.6) rotate(-90)">CTG</text>
<text class="s" text-anchor="end" transform="translate(1544.03,386.6) rotate(-90)">GTA</text>
<text class="s" text-anchor="end" transform="translate(1558.95,386.6) rotate(-90)">GTG</text>
<text class="s" text-anchor="end" transform="translate(1573.87,386.6) rotate(-90)">TTA</text>
<text class="s" text-anchor="end" transform="translate(1588.79,386.6) rotate(-90)">TTG</text>
<rect x="1596.9" y="107.4" width="116.6" height="19.8" fill="#EEAEEE"/>
<text class="t" text-anchor="middle" transform="translate(1655.2,94.5) scale(0.94,1)">T&gt;G</text>
<g fill="#ECAEEC">
<rect x="1596.9" y="332.726" width="4.7" height="28.074"/>
<rect x="1619.28" y="351.242" width="4.7" height="9.558"/>
<rect x="1626.74" y="323.468" width="4.7" height="37.332"/>
<rect x="1634.2" y="341.984" width="4.7" height="18.816"/>
<rect x="1649.12" y="304.952" width="4.7" height="55.848"/>
<rect x="1656.58" y="323.468" width="4.7" height="37.332"/>
<rect x="1664.04" y="341.984" width="4.7" height="18.816"/>
<rect x="1671.5" y="341.984" width="4.7" height="18.816"/>
<rect x="1678.96" y="323.468" width="4.7" height="37.332"/>
<rect x="1686.42" y="249.405" width="4.7" height="111.395"/>
<rect x="1708.8" y="267.921" width="4.7" height="92.879"/>
</g>
<path d="M1604.36 360.6h4.7M1611.82 360.6h4.7M1641.66 360.6h4.7M1693.88 360.6h4.7M1701.34 360.6h4.7" stroke="#D6BFD6" stroke-width="0.8" opacity="0.85" fill="none"/>
<text class="s" text-anchor="end" transform="translate(1603.75,386.6) rotate(-90)">ATA</text>
<text class="s" text-anchor="end" transform="translate(1618.67,386.6) rotate(-90)">ATG</text>
<text class="s" text-anchor="end" transform="translate(1633.59,386.6) rotate(-90)">CTA</text>
<text class="s" text-anchor="end" transform="translate(1648.51,386.6) rotate(-90)">CTG</text>
<text class="s" text-anchor="end" transform="translate(1663.43,386.6) rotate(-90)">GTA</text>
<text class="s" text-anchor="end" transform="translate(1678.35,386.6) rotate(-90)">GTG</text>
<text class="s" text-anchor="end" transform="translate(1693.27,386.6) rotate(-90)">TTA</text>
<text class="s" text-anchor="end" transform="translate(1708.19,386.6) rotate(-90)">TTG</text>
</g>
<g transform="translate(0,1260)">
<text class="g" transform="translate(1.25,27) scale(1.016,1)">(d)</text>
<rect x="127.4" y="356.734" width="87.4" height="3.966" fill="#1E90FF"/>
<text class="t" text-anchor="middle" transform="translate(171.1,406.9) scale(0.94,1)">C&gt;A</text>
<rect x="231.75" y="358.717" width="87.4" height="1.983" fill="#000000"/>
<text class="t" text-anchor="middle" transform="translate(275.45,406.9) scale(0.94,1)">C&gt;G</text>
<rect x="336.1" y="350.784" width="87.4" height="9.916" fill="#FA0000"/>
<text class="t" text-anchor="middle" transform="translate(379.8,406.9) scale(0.94,1)">C&gt;T</text>
<rect x="440.45" y="348.801" width="87.4" height="11.899" fill="#FFC0CB"/>
<text class="t" text-anchor="middle" transform="translate(484.15,406.9) scale(0.94,1)">CpG&gt;TpG</text>
<rect x="544.8" y="355.742" width="87.4" height="4.958" fill="#B3B3B3"/>
<text class="t" text-anchor="middle" transform="translate(588.5,406.9) scale(0.94,1)">T&gt;A</text>
<rect x="649.15" y="94.951" width="87.4" height="265.749" fill="#9ACD32"/>
<text class="t" text-anchor="middle" transform="translate(692.85,406.9) scale(0.94,1)">T&gt;C</text>
<rect x="753.5" y="354.75" width="87.4" height="5.95" fill="#EEAEEE"/>
<text class="t" text-anchor="middle" transform="translate(797.2,406.9) scale(0.94,1)">T&gt;G</text>
<path class="ax" stroke-width="2.8" d="M86.4 360.7H99.05M86.4 311.12H99.05M86.4 261.54H99.05M86.4 211.96H99.05M86.4 162.38H99.05M86.4 112.8H99.05"/>
<path class="ax" stroke-width="2.5" d="M99.05 112.8V360.7"/>
<text class="t" text-anchor="middle" transform="translate(68.5,360.7) rotate(-90) scale(0.94,1)">0</text>
<text class="t" text-anchor="middle" transform="translate(68.5,311.12) rotate(-90) scale(0.94,1)">50</text>
<text class="t" text-anchor="middle" transform="translate(68.5,261.54) rotate(-90) scale(0.94,1)">100</text>
<text class="t" text-anchor="middle" transform="translate(68.5,162.38) rotate(-90) scale(0.94,1)">200</text>
<text class="t" text-anchor="middle" transform="translate(17.7,214.2) rotate(-90) scale(0.945,1)">GEL_3</text>
<path class="ax" stroke-width="3" d="M958.6 360.5H971.8M958.6 297.785H971.8M958.6 235.07H971.8M958.6 172.355H971.8M958.6 109.64H971.8"/>
<path class="ax" stroke-width="3.5" d="M971.8 109.64V360.5"/>
<text class="t" text-anchor="end" transform="translate(945.6,368.5) scale(0.945,1)">0</text>
<text class="t" text-anchor="end" transform="translate(945.6,305.785) scale(0.945,1)">10</text>
<text class="t" text-anchor="end" transform="translate(945.6,243.07) scale(0.945,1)">20</text>
<text class="t" text-anchor="end" transform="translate(945.6,180.355) scale(0.945,1)">30</text>
<text class="t" text-anchor="end" transform="translate(945.6,117.64) scale(0.945,1)">40</text>
<text class="t" text-anchor="middle" transform="translate(890,214.7) rotate(-90) scale(0.97,1)">count</text>
<rect x="999.9" y="107.4" width="116.6" height="19.8" fill="#1E90FF"/>
<text class="t" text-anchor="middle" transform="translate(1058.2,94.5) scale(0.94,1)">C&gt;A</text>
<g fill="#2489F0">
<rect x="1022.28" y="354.228" width="4.7" height="6.572"/>
<rect x="1029.74" y="354.228" width="4.7" height="6.572"/>
<rect x="1059.58" y="354.228" width="4.7" height="6.572"/>
<rect x="1111.8" y="354.228" width="4.7" height="6.572"/>
</g>
<path d="M999.9 360.6h4.7M1007.36 360.6h4.7M1014.82 360.6h4.7M1037.2 360.6h4.7M1044.66 360.6h4.7M1052.12 360.6h4.7M1067.04 360.6h4.7M1074.5 360.6h4.7M1081.96 360.6h4.7M1089.42 360.6h4.7M1096.88 360.6h4.7M1104.34 360.6h4.7" stroke="#5A82A9" stroke-width="0.8" opacity="0.85" fill="none"/>
<text class="s" text-anchor="end" transform="translate(1006.75,386.6) rotate(-90)">ACA</text>
<text class="s" text-anchor="end" transform="translate(1021.67,386.6) rotate(-90)">ACG</text>
<text class="s" text-anchor="end" transform="translate(1036.59,386.6) rotate(-90)">CCA</text>
<text class="s" text-anchor="end" transform="translate(1051.51,386.6) rotate(-90)">CCG</text>
<text class="s" text-anchor="end" transform="translate(1066.43,386.6) rotate(-90)">GCA</text>
<text class="s" text-anchor="end" transform="translate(1081.35,386.6) rotate(-90)">GCG</text>
<text class="s" text-anchor="end" transform="translate(1096.27,386.6) rotate(-90)">TCA</text>
<text class="s" text-anchor="end" transform="translate(1111.19,386.6) rotate(-90)">TCG</text>
<rect x="1119.3" y="107.4" width="116.6" height="19.8" fill="#000000"/>
<text class="t" text-anchor="middle" transform="translate(1177.6,94.5) scale(0.94,1)">C&gt;G</text>
<g fill="#000000">
<rect x="1178.98" y="354.228" width="4.7" height="6.572"/>
<rect x="1201.36" y="354.228" width="4.7" height="6.572"/>
</g>
<path d="M1119.3 360.6h4.7M1126.76 360.6h4.7M1134.22 360.6h4.7M1141.68 360.6h4.7M1149.14 360.6h4.7M1156.6 360.6h4.7M1164.06 360.6h4.7M1171.52 360.6h4.7M1186.44 360.6h4.7M1193.9 360.6h4.7M1208.82 360.6h4.7M1216.28 360.6h4.7M1223.74 360.6h4.7M1231.2 360.6h4.7" stroke="#000000" stroke-width="0.8" opacity="0.85" fill="none"/>
<text class="s" text-anchor="end" transform="translate(1126.15,386.6) rotate(-90)">ACA</text>
<text class="s" text-anchor="end" transform="translate(1141.07,386.6) rotate(-90)">ACG</text>
<text class="s" text-anchor="end" transform="translate(1155.99,386.6) rotate(-90)">CCA</text>
<text class="s" text-anchor="end" transform="translate(1170.91,386.6) rotate(-90)">CCG</text>
<text class="s" text-anchor="end" transform="translate(1185.83,386.6) rotate(-90)">GCA</text>
<text class="s" text-anchor="end" transform="translate(1200.75,386.6) rotate(-90)">GCG</text>
<text class="s" text-anchor="end" transform="translate(1215.67,386.6) rotate(-90)">TCA</text>
<text class="s" text-anchor="end" transform="translate(1230.59,386.6) rotate(-90)">TCG</text>
<rect x="1238.7" y="107.4" width="116.6" height="19.8" fill="#FA0000"/>
<text class="t" text-anchor="middle" transform="translate(1297,94.5) scale(0.94,1)">C&gt;T</text>
<g fill="#DE1010">
<rect x="1238.7" y="341.685" width="4.7" height="19.115"/>
<rect x="1246.16" y="354.228" width="4.7" height="6.572"/>
<rect x="1253.62" y="347.957" width="4.7" height="12.843"/>
<rect x="1268.54" y="354.228" width="4.7" height="6.572"/>
<rect x="1283.46" y="341.685" width="4.7" height="19.115"/>
<rect x="1290.92" y="354.228" width="4.7" height="6.572"/>
<rect x="1313.3" y="341.685" width="4.7" height="19.115"/>
<rect x="1320.76" y="354.228" width="4.7" height="6.572"/>
<rect x="1335.68" y="354.228" width="4.7" height="6.572"/>
<rect x="1343.14" y="335.414" width="4.7" height="25.386"/>
<rect x="1350.6" y="354.228" width="4.7" height="6.572"/>
</g>
<path d="M1261.08 360.6h4.7M1276 360.6h4.7M1298.38 360.6h4.7M1305.84 360.6h4.7M1328.22 360.6h4.7" stroke="#883131" stroke-width="0.8" opacity="0.85" fill="none"/>
<text class="s" text-anchor="end" transform="translate(1245.55,386.6) rotate(-90)">ACA</text>
<text class="s" text-anchor="end" transform="translate(1260.47,386.6) rotate(-90)">ACG</text>
<text class="s" text-anchor="end" transform="translate(1275.39,386.6) rotate(-90)">CCA</text>
<text class="s" text-anchor="end" transform="translate(1290.31,386.6) rotate(-90)">CCG</text>
<text class="s" text-anchor="end" transform="translate(1305.23,386.6) rotate(-90)">GCA</text>
<text class="s" text-anchor="end" transform="translate(1320.15,386.6) rotate(-90)">GCG</text>
<text class="s" text-anchor="end" transform="translate(1335.07,386.6) rotate(-90)">TCA</text>
<text class="s" text-anchor="end" transform="translate(1349.99,386.6) rotate(-90)">TCG</text>
<rect x="1358.1" y="107.4" width="116.6" height="19.8" fill="#B3B3B3"/>
<text class="t" text-anchor="middle" transform="translate(1416.4,94.5) scale(0.94,1)">T&gt;A</text>
<g fill="#B3B3B3">
<rect x="1365.56" y="354.228" width="4.7" height="6.572"/>
<rect x="1373.02" y="354.228" width="4.7" height="6.572"/>
<rect x="1380.48" y="354.228" width="4.7" height="6.572"/>
<rect x="1447.62" y="354.228" width="4.7" height="6.572"/>
<rect x="1462.54" y="354.228" width="4.7" height="6.572"/>
</g>
<path d="M1358.1 360.6h4.7M1387.94 360.6h4.7M1395.4 360.6h4.7M1402.86 360.6h4.7M1410.32 360.6h4.7M1417.78 360.6h4.7M1425.24 360.6h4.7M1432.7 360.6h4.7M1440.16 360.6h4.7M1455.08 360.6h4.7M1470 360.6h4.7" stroke="#B3B3B3" stroke-width="0.8" opacity="0.85" fill="none"/>
<text class="s" text-anchor="end" transform="translate(1364.95,386.6) rotate(-90)">ATA</text>
<text class="s" text-anchor="end" transform="translate(1379.87,386.6) rotate(-90)">ATG</text>
<text class="s" text-anchor="end" transform="translate(1394.79,386.6) rotate(-90)">CTA</text>
<text class="s" text-anchor="end" transform="translate(1409.71,386.6) rotate(-90)">CTG</text>
<text class="s" text-anchor="end" transform="translate(1424.63,386.6) rotate(-90)">GTA</text>
<text class="s" text-anchor="end" transform="translate(1439.55,386.6) rotate(-90)">GTG</text>
<text class="s" text-anchor="end" transform="translate(1454.47,386.6) rotate(-90)">TTA</text>
<text class="s" text-anchor="end" transform="translate(1469.39,386.6) rotate(-90)">TTG</text>
<rect x="1477.5" y="107.4" width="116.6" height="19.8" fill="#9ACD32"/>
<text class="t" text-anchor="middle" transform="translate(1535.8,94.5) scale(0.94,1)">T&gt;C</text>
<g fill="#97C838">
<rect x="1477.5" y="184.898" width="4.7" height="175.902"/>
<rect x="1484.96" y="291.513" width="4.7" height="69.287"/>
<rect x="1492.42" y="172.355" width="4.7" height="188.445"/>
<rect x="1499.88" y="247.613" width="4.7" height="113.187"/>
<rect x="1507.34" y="316.599" width="4.7" height="44.201"/>
<rect x="1514.8" y="316.599" width="4.7" height="44.201"/>
<rect x="1522.26" y="166.083" width="4.7" height="194.717"/>
<rect x="1529.72" y="253.884" width="4.7" height="106.916"/>
<rect x="1537.18" y="260.156" width="4.7" height="100.644"/>
<rect x="1544.64" y="266.427" width="4.7" height="94.373"/>
<rect x="1552.1" y="228.798" width="4.7" height="132.002"/>
<rect x="1559.56" y="310.328" width="4.7" height="50.472"/>
<rect x="1567.02" y="266.427" width="4.7" height="94.373"/>
<rect x="1574.48" y="310.328" width="4.7" height="50.472"/>
<rect x="1581.94" y="235.07" width="4.7" height="125.73"/>
<rect x="1589.4" y="260.156" width="4.7" height="100.644"/>
</g>
<text class="s" text-anchor="end" transform="translate(1484.35,386.6) rotate(-90)">ATA</text>
<text class="s" text-anchor="end" transform="translate(1499.27,386.6) rotate(-90)">ATG</text>
<text class="s" text-anchor="end" transform="translate(1514.19,386.6) rotate(-90)">CTA</text>
<text class="s" text-anchor="end" transform="translate(1529.11,386.6) rotate(-90)">CTG</text>
<text class="s" text-anchor="end" transform="translate(1544.03,386.6) rotate(-90)">GTA</text>
<text class="s" text-anchor="end" transform="translate(1558.95,386.6) rotate(-90)">GTG</text>
<text class="s" text-anchor="end" transform="translate(1573.87,386.6) rotate(-90)">TTA</text>
<text class="s" text-anchor="end" transform="translate(1588.79,386.6) rotate(-90)">TTG</text>
<rect x="1596.9" y="107.4" width="116.6" height="19.8" fill="#EEAEEE"/>
<text class="t" text-anchor="middle" transform="translate(1655.2,94.5) scale(0.94,1)">T&gt;G</text>
<g fill="#ECAEEC">
<rect x="1604.36" y="354.228" width="4.7" height="6.572"/>
<rect x="1649.12" y="354.228" width="4.7" height="6.572"/>
<rect x="1664.04" y="354.228" width="4.7" height="6.572"/>
<rect x="1678.96" y="354.228" width="4.7" height="6.572"/>
<rect x="1701.34" y="354.228" width="4.7" height="6.572"/>
<rect x="1708.8" y="354.228" width="4.7" height="6.572"/>
</g>
<path d="M1596.9 360.6h4.7M1611.82 360.6h4.7M1619.28 360.6h4.7M1626.74 360.6h4.7M1634.2 360.6h4.7M1641.66 360.6h4.7M1656.58 360.6h4.7M1671.5 360.6h4.7M1686.42 360.6h4.7M1693.88 360.6h4.7" stroke="#D6BFD6" stroke-width="0.8" opacity="0.85" fill="none"/>
<text class="s" text-anchor="end" transform="translate(1603.75,386.6) rotate(-90)">ATA</text>
<text class="s" text-anchor="end" transform="translate(1618.67,386.6) rotate(-90)">ATG</text>
<text class="s" text-anchor="end" transform="translate(1633.59,386.6) rotate(-90)">CTA</text>
<text class="s" text-anchor="end" transform="translate(1648.51,386.6) rotate(-90)">CTG</text>
<text class="s" text-anchor="end" transform="translate(1663.43,386.6) rotate(-90)">GTA</text>
<text class="s" text-anchor="end" transform="translate(1678.35,386.6) rotate(-90)">GTG</text>
<text class="s" text-anchor="end" transform="translate(1693.27,386.6) rotate(-90)">TTA</text>
<text class="s" text-anchor="end" transform="translate(1708.19,386.6) rotate(-90)">TTG</text>
</g>
<g transform="translate(0,1680)">
<text class="g" transform="translate(1.25,27) scale(1.016,1)">(e)</text>
<rect x="127.4" y="301.72" width="87.4" height="58.98" fill="#1E90FF"/>
<text class="t" text-anchor="middle" transform="translate(171.1,406.9) scale(0.94,1)">C&gt;A</text>
<rect x="231.75" y="310.567" width="87.4" height="50.133" fill="#000000"/>
<text class="t" text-anchor="middle" transform="translate(275.45,406.9) scale(0.94,1)">C&gt;G</text>
<rect x="336.1" y="225.046" width="87.4" height="135.654" fill="#FA0000"/>
<text class="t" text-anchor="middle" transform="translate(379.8,406.9) scale(0.94,1)">C&gt;T</text>
<rect x="440.45" y="95.29" width="87.4" height="265.41" fill="#FFC0CB"/>
<text class="t" text-anchor="middle" transform="translate(484.15,406.9) scale(0.94,1)">CpG&gt;TpG</text>
<rect x="544.8" y="301.72" width="87.4" height="58.98" fill="#B3B3B3"/>
<text class="t" text-anchor="middle" transform="translate(588.5,406.9) scale(0.94,1)">T&gt;A</text>
<rect x="649.15" y="195.556" width="87.4" height="165.144" fill="#9ACD32"/>
<text class="t" text-anchor="middle" transform="translate(692.85,406.9) scale(0.94,1)">T&gt;C</text>
<rect x="753.5" y="322.363" width="87.4" height="38.337" fill="#EEAEEE"/>
<text class="t" text-anchor="middle" transform="translate(797.2,406.9) scale(0.94,1)">T&gt;G</text>
<path class="ax" stroke-width="2.8" d="M86.4 360.7H99.05M86.4 301.72H99.05M86.4 242.74H99.05M86.4 183.76H99.05M86.4 124.78H99.05"/>
<path class="ax" stroke-width="2.5" d="M99.05 124.78V360.7"/>
<text class="t" text-anchor="middle" transform="translate(68.5,360.7) rotate(-90) scale(0.94,1)">0</text>
<text class="t" text-anchor="middle" transform="translate(68.5,301.72) rotate(-90) scale(0.94,1)">20</text>
<text class="t" text-anchor="middle" transform="translate(68.5,242.74) rotate(-90) scale(0.94,1)">40</text>
<text class="t" text-anchor="middle" transform="translate(68.5,183.76) rotate(-90) scale(0.94,1)">60</text>
<text class="t" text-anchor="middle" transform="translate(68.5,124.78) rotate(-90) scale(0.94,1)">80</text>
<text class="t" text-anchor="middle" transform="translate(17.7,214.2) rotate(-90) scale(0.945,1)">GEL_4</text>
<path class="ax" stroke-width="3" d="M958.6 360.5H971.8M958.6 299.745H971.8M958.6 238.99H971.8M958.6 178.234H971.8M958.6 117.479H971.8"/>
<path class="ax" stroke-width="3.5" d="M971.8 117.479V360.5"/>
<text class="t" text-anchor="end" transform="translate(945.6,368.5) scale(0.945,1)">0</text>
<text class="t" text-anchor="end" transform="translate(945.6,307.745) scale(0.945,1)">10</text>
<text class="t" text-anchor="end" transform="translate(945.6,246.99) scale(0.945,1)">20</text>
<text class="t" text-anchor="end" transform="translate(945.6,186.234) scale(0.945,1)">30</text>
<text class="t" text-anchor="end" transform="translate(945.6,125.479) scale(0.945,1)">40</text>
<text class="t" text-anchor="middle" transform="translate(890,214.7) rotate(-90) scale(0.97,1)">count</text>
<rect x="999.9" y="107.4" width="116.6" height="19.8" fill="#1E90FF"/>
<text class="t" text-anchor="middle" transform="translate(1058.2,94.5) scale(0.94,1)">C&gt;A</text>
<g fill="#2489F0">
<rect x="999.9" y="348.349" width="4.7" height="12.451"/>
<rect x="1007.36" y="348.349" width="4.7" height="12.451"/>
<rect x="1022.28" y="354.424" width="4.7" height="6.376"/>
<rect x="1029.74" y="354.424" width="4.7" height="6.376"/>
<rect x="1037.2" y="348.349" width="4.7" height="12.451"/>
<rect x="1052.12" y="348.349" width="4.7" height="12.451"/>
<rect x="1067.04" y="336.198" width="4.7" height="24.602"/>
<rect x="1074.5" y="354.424" width="4.7" height="6.376"/>
<rect x="1089.42" y="342.273" width="4.7" height="18.527"/>
<rect x="1111.8" y="348.349" width="4.7" height="12.451"/>
</g>
<path d="M1014.82 360.6h4.7M1044.66 360.6h4.7M1059.58 360.6h4.7M1081.96 360.6h4.7M1096.88 360.6h4.7M1104.34 360.6h4.7" stroke="#5A82A9" stroke-width="0.8" opacity="0.85" fill="none"/>
<text class="s" text-anchor="end" transform="translate(1006.75,386.6) rotate(-90)">ACA</text>
<text class="s" text-anchor="end" transform="translate(1021.67,386.6) rotate(-90)">ACG</text>
<text class="s" text-anchor="end" transform="translate(1036.59,386.6) rotate(-90)">CCA</text>
<text class="s" text-anchor="end" transform="translate(1051.51,386.6) rotate(-90)">CCG</text>
<text class="s" text-anchor="end" transform="translate(1066.43,386.6) rotate(-90)">GCA</text>
<text class="s" text-anchor="end" transform="translate(1081.35,386.6) rotate(-90)">GCG</text>
<text class="s" text-anchor="end" transform="translate(1096.27,386.6) rotate(-90)">TCA</text>
<text class="s" text-anchor="end" transform="translate(1111.19,386.6) rotate(-90)">TCG</text>
<rect x="1119.3" y="107.4" width="116.6" height="19.8" fill="#000000"/>
<text class="t" text-anchor="middle" transform="translate(1177.6,94.5) scale(0.94,1)">C&gt;G</text>
<g fill="#000000">
<rect x="1119.3" y="342.273" width="4.7" height="18.527"/>
<rect x="1126.76" y="348.349" width="4.7" height="12.451"/>
<rect x="1141.68" y="348.349" width="4.7" height="12.451"/>
<rect x="1149.14" y="354.424" width="4.7" height="6.376"/>
<rect x="1156.6" y="354.424" width="4.7" height="6.376"/>
<rect x="1164.06" y="348.349" width="4.7" height="12.451"/>
<rect x="1171.52" y="354.424" width="4.7" height="6.376"/>
<rect x="1208.82" y="354.424" width="4.7" height="6.376"/>
<rect x="1216.28" y="348.349" width="4.7" height="12.451"/>
<rect x="1231.2" y="348.349" width="4.7" height="12.451"/>
</g>
<path d="M1134.22 360.6h4.7M1178.98 360.6h4.7M1186.44 360.6h4.7M1193.9 360.6h4.7M1201.36 360.6h4.7M1223.74 360.6h4.7" stroke="#000000" stroke-width="0.8" opacity="0.85" fill="none"/>
<text class="s" text-anchor="end" transform="translate(1126.15,386.6) rotate(-90)">ACA</text>
<text class="s" text-anchor="end" transform="translate(1141.07,386.6) rotate(-90)">ACG</text>
<text class="s" text-anchor="end" transform="translate(1155.99,386.6) rotate(-90)">CCA</text>
<text class="s" text-anchor="end" transform="translate(1170.91,386.6) rotate(-90)">CCG</text>
<text class="s" text-anchor="end" transform="translate(1185.83,386.6) rotate(-90)">GCA</text>
<text class="s" text-anchor="end" transform="translate(1200.75,386.6) rotate(-90)">GCG</text>
<text class="s" text-anchor="end" transform="translate(1215.67,386.6) rotate(-90)">TCA</text>
<text class="s" text-anchor="end" transform="translate(1230.59,386.6) rotate(-90)">TCG</text>
<rect x="1238.7" y="107.4" width="116.6" height="19.8" fill="#FA0000"/>
<text class="t" text-anchor="middle" transform="translate(1297,94.5) scale(0.94,1)">C&gt;T</text>
<g fill="#DE1010">
<rect x="1238.7" y="324.047" width="4.7" height="36.753"/>
<rect x="1246.16" y="336.198" width="4.7" height="24.602"/>
<rect x="1253.62" y="166.083" width="4.7" height="194.717"/>
<rect x="1261.08" y="348.349" width="4.7" height="12.451"/>
<rect x="1268.54" y="336.198" width="4.7" height="24.602"/>
<rect x="1276" y="342.273" width="4.7" height="18.527"/>
<rect x="1283.46" y="257.216" width="4.7" height="103.584"/>
<rect x="1290.92" y="330.122" width="4.7" height="30.678"/>
<rect x="1298.38" y="336.198" width="4.7" height="24.602"/>
<rect x="1305.84" y="311.896" width="4.7" height="48.904"/>
<rect x="1313.3" y="226.839" width="4.7" height="133.961"/>
<rect x="1320.76" y="354.424" width="4.7" height="6.376"/>
<rect x="1328.22" y="348.349" width="4.7" height="12.451"/>
<rect x="1335.68" y="336.198" width="4.7" height="24.602"/>
<rect x="1343.14" y="245.065" width="4.7" height="115.735"/>
<rect x="1350.6" y="342.273" width="4.7" height="18.527"/>
</g>
<text class="s" text-anchor="end" transform="translate(1245.55,386.6) rotate(-90)">ACA</text>
<text class="s" text-anchor="end" transform="translate(1260.47,386.6) rotate(-90)">ACG</text>
<text class="s" text-anchor="end" transform="translate(1275.39,386.6) rotate(-90)">CCA</text>
<text class="s" text-anchor="end" transform="translate(1290.31,386.6) rotate(-90)">CCG</text>
<text class="s" text-anchor="end" transform="translate(1305.23,386.6) rotate(-90)">GCA</text>
<text class="s" text-anchor="end" transform="translate(1320.15,386.6) rotate(-90)">GCG</text>
<text class="s" text-anchor="end" transform="translate(1335.07,386.6) rotate(-90)">TCA</text>
<text class="s" text-anchor="end" transform="translate(1349.99,386.6) rotate(-90)">TCG</text>
<rect x="1358.1" y="107.4" width="116.6" height="19.8" fill="#B3B3B3"/>
<text class="t" text-anchor="middle" transform="translate(1416.4,94.5) scale(0.94,1)">T&gt;A</text>
<g fill="#B3B3B3">
<rect x="1358.1" y="354.424" width="4.7" height="6.376"/>
<rect x="1365.56" y="354.424" width="4.7" height="6.376"/>
<rect x="1373.02" y="342.273" width="4.7" height="18.527"/>
<rect x="1380.48" y="336.198" width="4.7" height="24.602"/>
<rect x="1387.94" y="348.349" width="4.7" height="12.451"/>
<rect x="1402.86" y="354.424" width="4.7" height="6.376"/>
<rect x="1410.32" y="348.349" width="4.7" height="12.451"/>
<rect x="1447.62" y="354.424" width="4.7" height="6.376"/>
<rect x="1455.08" y="354.424" width="4.7" height="6.376"/>
<rect x="1462.54" y="348.349" width="4.7" height="12.451"/>
<rect x="1470" y="348.349" width="4.7" height="12.451"/>
</g>
<path d="M1395.4 360.6h4.7M1417.78 360.6h4.7M1425.24 360.6h4.7M1432.7 360.6h4.7M1440.16 360.6h4.7" stroke="#B3B3B3" stroke-width="0.8" opacity="0.85" fill="none"/>
<text class="s" text-anchor="end" transform="translate(1364.95,386.6) rotate(-90)">ATA</text>
<text class="s" text-anchor="end" transform="translate(1379.87,386.6) rotate(-90)">ATG</text>
<text class="s" text-anchor="end" transform="translate(1394.79,386.6) rotate(-90)">CTA</text>
<text class="s" text-anchor="end" transform="translate(1409.71,386.6) rotate(-90)">CTG</text>
<text class="s" text-anchor="end" transform="translate(1424.63,386.6) rotate(-90)">GTA</text>
<text class="s" text-anchor="end" transform="translate(1439.55,386.6) rotate(-90)">GTG</text>
<text class="s" text-anchor="end" transform="translate(1454.47,386.6) rotate(-90)">TTA</text>
<text class="s" text-anchor="end" transform="translate(1469.39,386.6) rotate(-90)">TTG</text>
<rect x="1477.5" y="107.4" width="116.6" height="19.8" fill="#9ACD32"/>
<text class="t" text-anchor="middle" transform="translate(1535.8,94.5) scale(0.94,1)">T&gt;C</text>
<g fill="#97C838">
<rect x="1477.5" y="324.047" width="4.7" height="36.753"/>
<rect x="1484.96" y="354.424" width="4.7" height="6.376"/>
<rect x="1492.42" y="317.971" width="4.7" height="42.829"/>
<rect x="1499.88" y="311.896" width="4.7" height="48.904"/>
<rect x="1507.34" y="348.349" width="4.7" height="12.451"/>
<rect x="1514.8" y="354.424" width="4.7" height="6.376"/>
<rect x="1522.26" y="324.047" width="4.7" height="36.753"/>
<rect x="1529.72" y="354.424" width="4.7" height="6.376"/>
<rect x="1537.18" y="336.198" width="4.7" height="24.602"/>
<rect x="1544.64" y="354.424" width="4.7" height="6.376"/>
<rect x="1552.1" y="348.349" width="4.7" height="12.451"/>
<rect x="1559.56" y="354.424" width="4.7" height="6.376"/>
<rect x="1567.02" y="336.198" width="4.7" height="24.602"/>
<rect x="1574.48" y="342.273" width="4.7" height="18.527"/>
<rect x="1581.94" y="348.349" width="4.7" height="12.451"/>
<rect x="1589.4" y="317.971" width="4.7" height="42.829"/>
</g>
<text class="s" text-anchor="end" transform="translate(1484.35,386.6) rotate(-90)">ATA</text>
<text class="s" text-anchor="end" transform="translate(1499.27,386.6) rotate(-90)">ATG</text>
<text class="s" text-anchor="end" transform="translate(1514.19,386.6) rotate(-90)">CTA</text>
<text class="s" text-anchor="end" transform="translate(1529.11,386.6) rotate(-90)">CTG</text>
<text class="s" text-anchor="end" transform="translate(1544.03,386.6) rotate(-90)">GTA</text>
<text class="s" text-anchor="end" transform="translate(1558.95,386.6) rotate(-90)">GTG</text>
<text class="s" text-anchor="end" transform="translate(1573.87,386.6) rotate(-90)">TTA</text>
<text class="s" text-anchor="end" transform="translate(1588.79,386.6) rotate(-90)">TTG</text>
<rect x="1596.9" y="107.4" width="116.6" height="19.8" fill="#EEAEEE"/>
<text class="t" text-anchor="middle" transform="translate(1655.2,94.5) scale(0.94,1)">T&gt;G</text>
<g fill="#ECAEEC">
<rect x="1611.82" y="354.424" width="4.7" height="6.376"/>
<rect x="1619.28" y="354.424" width="4.7" height="6.376"/>
<rect x="1649.12" y="348.349" width="4.7" height="12.451"/>
<rect x="1671.5" y="348.349" width="4.7" height="12.451"/>
<rect x="1678.96" y="354.424" width="4.7" height="6.376"/>
<rect x="1686.42" y="354.424" width="4.7" height="6.376"/>
<rect x="1693.88" y="348.349" width="4.7" height="12.451"/>
<rect x="1701.34" y="354.424" width="4.7" height="6.376"/>
<rect x="1708.8" y="348.349" width="4.7" height="12.451"/>
</g>
<path d="M1596.9 360.6h4.7M1604.36 360.6h4.7M1626.74 360.6h4.7M1634.2 360.6h4.7M1641.66 360.6h4.7M1656.58 360.6h4.7M1664.04 360.6h4.7" stroke="#D6BFD6" stroke-width="0.8" opacity="0.85" fill="none"/>
<text class="s" text-anchor="end" transform="translate(1603.75,386.6) rotate(-90)">ATA</text>
<text class="s" text-anchor="end" transform="translate(1618.67,386.6) rotate(-90)">ATG</text>
<text class="s" text-anchor="end" transform="translate(1633.59,386.6) rotate(-90)">CTA</text>
<text class="s" text-anchor="end" transform="translate(1648.51,386.6) rotate(-90)">CTG</text>
<text class="s" text-anchor="end" transform="translate(1663.43,386.6) rotate(-90)">GTA</text>
<text class="s" text-anchor="end" transform="translate(1678.35,386.6) rotate(-90)">GTG</text>
<text class="s" text-anchor="end" transform="translate(1693.27,386.6) rotate(-90)">TTA</text>
<text class="s" text-anchor="end" transform="translate(1708.19,386.6) rotate(-90)">TTG</text>
</g>
<g transform="translate(0,2100)">
<text class="g" transform="translate(1.25,27) scale(1.016,1)">(f)</text>
<rect x="127.4" y="195.364" width="87.4" height="165.536" fill="#1E90FF"/>
<text class="t" text-anchor="middle" transform="translate(171.1,406.9) scale(0.94,1)">C&gt;A</text>
<rect x="231.75" y="219.012" width="87.4" height="141.888" fill="#000000"/>
<text class="t" text-anchor="middle" transform="translate(275.45,406.9) scale(0.94,1)">C&gt;G</text>
<rect x="336.1" y="94.86" width="87.4" height="266.04" fill="#FA0000"/>
<text class="t" text-anchor="middle" transform="translate(379.8,406.9) scale(0.94,1)">C&gt;T</text>
<rect x="440.45" y="254.484" width="87.4" height="106.416" fill="#FFC0CB"/>
<text class="t" text-anchor="middle" transform="translate(484.15,406.9) scale(0.94,1)">CpG&gt;TpG</text>
<rect x="544.8" y="248.572" width="87.4" height="112.328" fill="#B3B3B3"/>
<text class="t" text-anchor="middle" transform="translate(588.5,406.9) scale(0.94,1)">T&gt;A</text>
<rect x="649.15" y="148.068" width="87.4" height="212.832" fill="#9ACD32"/>
<text class="t" text-anchor="middle" transform="translate(692.85,406.9) scale(0.94,1)">T&gt;C</text>
<rect x="753.5" y="289.956" width="87.4" height="70.944" fill="#EEAEEE"/>
<text class="t" text-anchor="middle" transform="translate(797.2,406.9) scale(0.94,1)">T&gt;G</text>
<path class="ax" stroke-width="2.8" d="M86.4 360.9H99.05M86.4 301.78H99.05M86.4 242.66H99.05M86.4 183.54H99.05M86.4 124.42H99.05"/>
<path class="ax" stroke-width="2.5" d="M99.05 124.42V360.9"/>
<text class="t" text-anchor="middle" transform="translate(68.5,360.9) rotate(-90) scale(0.94,1)">0</text>
<text class="t" text-anchor="middle" transform="translate(68.5,301.78) rotate(-90) scale(0.94,1)">10</text>
<text class="t" text-anchor="middle" transform="translate(68.5,242.66) rotate(-90) scale(0.94,1)">20</text>
<text class="t" text-anchor="middle" transform="translate(68.5,183.54) rotate(-90) scale(0.94,1)">30</text>
<text class="t" text-anchor="middle" transform="translate(68.5,124.42) rotate(-90) scale(0.94,1)">40</text>
<text class="t" text-anchor="middle" transform="translate(17.7,214.2) rotate(-90) scale(0.945,1)">GEL_5</text>
<path class="ax" stroke-width="3" d="M958.6 360.5H971.8M958.6 304.952H971.8M958.6 249.405H971.8M958.6 193.857H971.8M958.6 138.31H971.8M958.6 82.762H971.8"/>
<path class="ax" stroke-width="3.5" d="M971.8 82.762V360.5"/>
<text class="t" text-anchor="end" transform="translate(945.6,368.5) scale(0.945,1)">0</text>
<text class="t" text-anchor="end" transform="translate(945.6,312.952) scale(0.945,1)">2</text>
<text class="t" text-anchor="end" transform="translate(945.6,257.405) scale(0.945,1)">4</text>
<text class="t" text-anchor="end" transform="translate(945.6,201.857) scale(0.945,1)">6</text>
<text class="t" text-anchor="end" transform="translate(945.6,146.31) scale(0.945,1)">8</text>
<text class="t" text-anchor="end" transform="translate(945.6,90.762) scale(0.945,1)">10</text>
<text class="t" text-anchor="middle" transform="translate(890,214.7) rotate(-90) scale(0.97,1)">count</text>
<rect x="999.9" y="107.4" width="116.6" height="19.8" fill="#1E90FF"/>
<text class="t" text-anchor="middle" transform="translate(1058.2,94.5) scale(0.94,1)">C&gt;A</text>
<g fill="#2489F0">
<rect x="999.9" y="249.405" width="4.7" height="111.395"/>
<rect x="1007.36" y="304.952" width="4.7" height="55.848"/>
<rect x="1037.2" y="304.952" width="4.7" height="55.848"/>
<rect x="1059.58" y="277.179" width="4.7" height="83.621"/>
<rect x="1067.04" y="166.083" width="4.7" height="194.717"/>
<rect x="1081.96" y="221.631" width="4.7" height="139.169"/>
<rect x="1089.42" y="332.726" width="4.7" height="28.074"/>
<rect x="1096.88" y="304.952" width="4.7" height="55.848"/>
<rect x="1111.8" y="304.952" width="4.7" height="55.848"/>
</g>
<path d="M1014.82 360.6h4.7M1022.28 360.6h4.7M1029.74 360.6h4.7M1044.66 360.6h4.7M1052.12 360.6h4.7M1074.5 360.6h4.7M1104.34 360.6h4.7" stroke="#5A82A9" stroke-width="0.8" opacity="0.85" fill="none"/>
<text class="s" text-anchor="end" transform="translate(1006.75,386.6) rotate(-90)">ACA</text>
<text class="s" text-anchor="end" transform="translate(1021.67,386.6) rotate(-90)">ACG</text>
<text class="s" text-anchor="end" transform="translate(1036.59,386.6) rotate(-90)">CCA</text>
<text class="s" text-anchor="end" transform="translate(1051.51,386.6) rotate(-90)">CCG</text>
<text class="s" text-anchor="end" transform="translate(1066.43,386.6) rotate(-90)">GCA</text>
<text class="s" text-anchor="end" transform="translate(1081.35,386.6) rotate(-90)">GCG</text>
<text class="s" text-anchor="end" transform="translate(1096.27,386.6) rotate(-90)">TCA</text>
<text class="s" text-anchor="end" transform="translate(1111.19,386.6) rotate(-90)">TCG</text>
<rect x="1119.3" y="107.4" width="116.6" height="19.8" fill="#000000"/>
<text class="t" text-anchor="middle" transform="translate(1177.6,94.5) scale(0.94,1)">C&gt;G</text>
<g fill="#000000">
<rect x="1119.3" y="277.179" width="4.7" height="83.621"/>
<rect x="1126.76" y="304.952" width="4.7" height="55.848"/>
<rect x="1149.14" y="277.179" width="4.7" height="83.621"/>
<rect x="1156.6" y="277.179" width="4.7" height="83.621"/>
<rect x="1178.98" y="332.726" width="4.7" height="28.074"/>
<rect x="1186.44" y="304.952" width="4.7" height="55.848"/>
<rect x="1201.36" y="304.952" width="4.7" height="55.848"/>
<rect x="1208.82" y="277.179" width="4.7" height="83.621"/>
<rect x="1231.2" y="221.631" width="4.7" height="139.169"/>
</g>
<path d="M1134.22 360.6h4.7M1141.68 360.6h4.7M1164.06 360.6h4.7M1171.52 360.6h4.7M1193.9 360.6h4.7M1216.28 360.6h4.7M1223.74 360.6h4.7" stroke="#000000" stroke-width="0.8" opacity="0.85" fill="none"/>
<text class="s" text-anchor="end" transform="translate(1126.15,386.6) rotate(-90)">ACA</text>
<text class="s" text-anchor="end" transform="translate(1141.07,386.6) rotate(-90)">ACG</text>
<text class="s" text-anchor="end" transform="translate(1155.99,386.6) rotate(-90)">CCA</text>
<text class="s" text-anchor="end" transform="translate(1170.91,386.6) rotate(-90)">CCG</text>
<text class="s" text-anchor="end" transform="translate(1185.83,386.6) rotate(-90)">GCA</text>
<text class="s" text-anchor="end" transform="translate(1200.75,386.6) rotate(-90)">GCG</text>
<text class="s" text-anchor="end" transform="translate(1215.67,386.6) rotate(-90)">TCA</text>
<text class="s" text-anchor="end" transform="translate(1230.59,386.6) rotate(-90)">TCG</text>
<rect x="1238.7" y="107.4" width="116.6" height="19.8" fill="#FA0000"/>
<text class="t" text-anchor="middle" transform="translate(1297,94.5) scale(0.94,1)">C&gt;T</text>
<g fill="#DE1010">
<rect x="1238.7" y="277.179" width="4.7" height="83.621"/>
<rect x="1246.16" y="277.179" width="4.7" height="83.621"/>
<rect x="1253.62" y="166.083" width="4.7" height="194.717"/>
<rect x="1261.08" y="277.179" width="4.7" height="83.621"/>
<rect x="1268.54" y="193.857" width="4.7" height="166.943"/>
<rect x="1276" y="304.952" width="4.7" height="55.848"/>
<rect x="1283.46" y="304.952" width="4.7" height="55.848"/>
<rect x="1290.92" y="221.631" width="4.7" height="139.169"/>
<rect x="1298.38" y="277.179" width="4.7" height="83.621"/>
<rect x="1305.84" y="166.083" width="4.7" height="194.717"/>
<rect x="1313.3" y="249.405" width="4.7" height="111.395"/>
<rect x="1320.76" y="221.631" width="4.7" height="139.169"/>
<rect x="1328.22" y="249.405" width="4.7" height="111.395"/>
<rect x="1335.68" y="332.726" width="4.7" height="28.074"/>
<rect x="1343.14" y="221.631" width="4.7" height="139.169"/>
<rect x="1350.6" y="277.179" width="4.7" height="83.621"/>
</g>
<text class="s" text-anchor="end" transform="translate(1245.55,386.6) rotate(-90)">ACA</text>
<text class="s" text-anchor="end" transform="translate(1260.47,386.6) rotate(-90)">ACG</text>
<text class="s" text-anchor="end" transform="translate(1275.39,386.6) rotate(-90)">CCA</text>
<text class="s" text-anchor="end" transform="translate(1290.31,386.6) rotate(-90)">CCG</text>
<text class="s" text-anchor="end" transform="translate(1305.23,386.6) rotate(-90)">GCA</text>
<text class="s" text-anchor="end" transform="translate(1320.15,386.6) rotate(-90)">GCG</text>
<text class="s" text-anchor="end" transform="translate(1335.07,386.6) rotate(-90)">TCA</text>
<text class="s" text-anchor="end" transform="translate(1349.99,386.6) rotate(-90)">TCG</text>
<rect x="1358.1" y="107.4" width="116.6" height="19.8" fill="#B3B3B3"/>
<text class="t" text-anchor="middle" transform="translate(1416.4,94.5) scale(0.94,1)">T&gt;A</text>
<g fill="#B3B3B3">
<rect x="1358.1" y="332.726" width="4.7" height="28.074"/>
<rect x="1365.56" y="332.726" width="4.7" height="28.074"/>
<rect x="1380.48" y="277.179" width="4.7" height="83.621"/>
<rect x="1387.94" y="332.726" width="4.7" height="28.074"/>
<rect x="1395.4" y="332.726" width="4.7" height="28.074"/>
<rect x="1417.78" y="249.405" width="4.7" height="111.395"/>
<rect x="1432.7" y="332.726" width="4.7" height="28.074"/>
<rect x="1440.16" y="304.952" width="4.7" height="55.848"/>
<rect x="1447.62" y="332.726" width="4.7" height="28.074"/>
<rect x="1455.08" y="332.726" width="4.7" height="28.074"/>
<rect x="1462.54" y="304.952" width="4.7" height="55.848"/>
<rect x="1470" y="332.726" width="4.7" height="28.074"/>
</g>
<path d="M1373.02 360.6h4.7M1402.86 360.6h4.7M1410.32 360.6h4.7M1425.24 360.6h4.7" stroke="#B3B3B3" stroke-width="0.8" opacity="0.85" fill="none"/>
<text class="s" text-anchor="end" transform="translate(1364.95,386.6) rotate(-90)">ATA</text>
<text class="s" text-anchor="end" transform="translate(1379.87,386.6) rotate(-90)">ATG</text>
<text class="s" text-anchor="end" transform="translate(1394.79,386.6) rotate(-90)">CTA</text>
<text class="s" text-anchor="end" transform="translate(1409.71,386.6) rotate(-90)">CTG</text>
<text class="s" text-anchor="end" transform="translate(1424.63,386.6) rotate(-90)">GTA</text>
<text class="s" text-anchor="end" transform="translate(1439.55,386.6) rotate(-90)">GTG</text>
<text class="s" text-anchor="end" transform="translate(1454.47,386.6) rotate(-90)">TTA</text>
<text class="s" text-anchor="end" transform="translate(1469.39,386.6) rotate(-90)">TTG</text>
<rect x="1477.5" y="107.4" width="116.6" height="19.8" fill="#9ACD32"/>
<text class="t" text-anchor="middle" transform="translate(1535.8,94.5) scale(0.94,1)">T&gt;C</text>
<g fill="#97C838">
<rect x="1477.5" y="277.179" width="4.7" height="83.621"/>
<rect x="1484.96" y="332.726" width="4.7" height="28.074"/>
<rect x="1492.42" y="277.179" width="4.7" height="83.621"/>
<rect x="1499.88" y="304.952" width="4.7" height="55.848"/>
<rect x="1507.34" y="332.726" width="4.7" height="28.074"/>
<rect x="1514.8" y="332.726" width="4.7" height="28.074"/>
<rect x="1522.26" y="332.726" width="4.7" height="28.074"/>
<rect x="1529.72" y="304.952" width="4.7" height="55.848"/>
<rect x="1537.18" y="277.179" width="4.7" height="83.621"/>
<rect x="1544.64" y="277.179" width="4.7" height="83.621"/>
<rect x="1552.1" y="304.952" width="4.7" height="55.848"/>
<rect x="1559.56" y="221.631" width="4.7" height="139.169"/>
<rect x="1567.02" y="249.405" width="4.7" height="111.395"/>
<rect x="1581.94" y="332.726" width="4.7" height="28.074"/>
<rect x="1589.4" y="249.405" width="4.7" height="111.395"/>
</g>
<path d="M1574.48 360.6h4.7" stroke="#A6B881" stroke-width="0.8" opacity="0.85" fill="none"/>
<text class="s" text-anchor="end" transform="translate(1484.35,386.6) rotate(-90)">ATA</text>
<text class="s" text-anchor="end" transform="translate(1499.27,386.6) rotate(-90)">ATG</text>
<text class="s" text-anchor="end" transform="translate(1514.19,386.6) rotate(-90)">CTA</text>
<text class="s" text-anchor="end" transform="translate(1529.11,386.6) rotate(-90)">CTG</text>
<text class="s" text-anchor="end" transform="translate(1544.03,386.6) rotate(-90)">GTA</text>
<text class="s" text-anchor="end" transform="translate(1558.95,386.6) rotate(-90)">GTG</text>
<text class="s" text-anchor="end" transform="translate(1573.87,386.6) rotate(-90)">TTA</text>
<text class="s" text-anchor="end" transform="translate(1588.79,386.6) rotate(-90)">TTG</text>
<rect x="1596.9" y="107.4" width="116.6" height="19.8" fill="#EEAEEE"/>
<text class="t" text-anchor="middle" transform="translate(1655.2,94.5) scale(0.94,1)">T&gt;G</text>
<g fill="#ECAEEC">
<rect x="1619.28" y="332.726" width="4.7" height="28.074"/>
<rect x="1626.74" y="332.726" width="4.7" height="28.074"/>
<rect x="1641.66" y="304.952" width="4.7" height="55.848"/>
<rect x="1671.5" y="249.405" width="4.7" height="111.395"/>
<rect x="1686.42" y="277.179" width="4.7" height="83.621"/>
<rect x="1708.8" y="332.726" width="4.7" height="28.074"/>
</g>
<path d="M1596.9 360.6h4.7M1604.36 360.6h4.7M1611.82 360.6h4.7M1634.2 360.6h4.7M1649.12 360.6h4.7M1656.58 360.6h4.7M1664.04 360.6h4.7M1678.96 360.6h4.7M1693.88 360.6h4.7M1701.34 360.6h4.7" stroke="#D6BFD6" stroke-width="0.8" opacity="0.85" fill="none"/>
<text class="s" text-anchor="end" transform="translate(1603.75,386.6) rotate(-90)">ATA</text>
<text class="s" text-anchor="end" transform="translate(1618.67,386.6) rotate(-90)">ATG</text>
<text class="s" text-anchor="end" transform="translate(1633.59,386.6) rotate(-90)">CTA</text>
<text class="s" text-anchor="end" transform="translate(1648.51,386.6) rotate(-90)">CTG</text>
<text class="s" text-anchor="end" transform="translate(1663.43,386.6) rotate(-90)">GTA</text>
<text class="s" text-anchor="end" transform="translate(1678.35,386.6) rotate(-90)">GTG</text>
<text class="s" text-anchor="end" transform="translate(1693.27,386.6) rotate(-90)">TTA</text>
<text class="s" text-anchor="end" transform="translate(1708.19,386.6) rotate(-90)">TTG</text>
</g>
</svg></body></html>
